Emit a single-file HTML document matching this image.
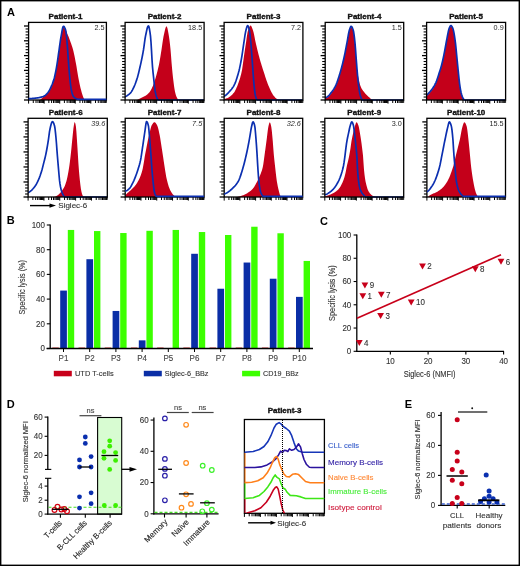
<!DOCTYPE html>
<html><head><meta charset="utf-8"><style>
html,body{margin:0;padding:0;background:#fff;}
svg{display:block;font-family:"Liberation Sans", sans-serif;will-change:transform;}
</style></head><body>
<svg width="520" height="566" viewBox="0 0 520 566">
<rect x="0" y="0" width="520" height="566" fill="#fff"/>
<g id="panelA">
<clipPath id="cPatient1"><rect x="28.6" y="22.4" width="77.8" height="78.6"/></clipPath>
<path d="M40,100 L40,100 L40.5,99.53 L41,99.07 L41.5,98.6 L42,98.15 L42.5,97.7 L43,97.25 L43.5,96.81 L44,96.4 L44.5,96.01 L45,95.64 L45.5,95.27 L46,94.89 L46.5,94.49 L47,94.05 L47.5,93.57 L48,93.02 L48.5,92.37 L49,91.63 L49.5,90.79 L50,89.87 L50.5,88.87 L51,87.82 L51.5,86.71 L52,85.56 L52.5,84.31 L53,82.93 L53.5,81.42 L54,79.76 L54.5,77.91 L55,75.8 L55.5,73.45 L56,70.9 L56.5,68.18 L57,65.17 L57.5,61.82 L58,58.28 L58.5,54.73 L59,51.29 L59.5,47.73 L60,44.14 L60.5,40.72 L61,37.69 L61.5,34.88 L62,31.95 L62.5,29.34 L63,27.56 L63.5,27.07 L64,27.46 L64.5,28.24 L65,29.21 L65.5,30.16 L66,31.07 L66.5,32.07 L67,33.14 L67.5,34.26 L68,35.43 L68.5,36.62 L69,37.86 L69.5,39.16 L70,40.52 L70.5,41.91 L71,43.35 L71.5,44.81 L72,46.29 L72.5,47.87 L73,49.59 L73.5,51.52 L74,53.69 L74.5,56.06 L75,58.58 L75.5,61.19 L76,63.85 L76.5,66.62 L77,69.64 L77.5,72.74 L78,75.75 L78.5,78.5 L79,81.03 L79.5,83.46 L80,85.77 L80.5,87.9 L81,89.83 L81.5,91.64 L82,93.38 L82.5,95 L83,96.46 L83.5,97.69 L84,98.65 L84.5,99.42 L85,100 L85,100 Z" fill="#c4001a" clip-path="url(#cPatient1)"/>
<line x1="24" y1="100" x2="28.6" y2="100" stroke="#000" stroke-width="1.3" />
<line x1="25.6" y1="97.04" x2="28.6" y2="97.04" stroke="#000" stroke-width="1.1" />
<line x1="25.6" y1="94.08" x2="28.6" y2="94.08" stroke="#000" stroke-width="1.1" />
<line x1="25.6" y1="91.12" x2="28.6" y2="91.12" stroke="#000" stroke-width="1.1" />
<line x1="25.6" y1="88.16" x2="28.6" y2="88.16" stroke="#000" stroke-width="1.1" />
<line x1="24" y1="85.2" x2="28.6" y2="85.2" stroke="#000" stroke-width="1.3" />
<line x1="25.6" y1="82.24" x2="28.6" y2="82.24" stroke="#000" stroke-width="1.1" />
<line x1="25.6" y1="79.28" x2="28.6" y2="79.28" stroke="#000" stroke-width="1.1" />
<line x1="25.6" y1="76.32" x2="28.6" y2="76.32" stroke="#000" stroke-width="1.1" />
<line x1="25.6" y1="73.36" x2="28.6" y2="73.36" stroke="#000" stroke-width="1.1" />
<line x1="24" y1="70.4" x2="28.6" y2="70.4" stroke="#000" stroke-width="1.3" />
<line x1="25.6" y1="67.44" x2="28.6" y2="67.44" stroke="#000" stroke-width="1.1" />
<line x1="25.6" y1="64.48" x2="28.6" y2="64.48" stroke="#000" stroke-width="1.1" />
<line x1="25.6" y1="61.52" x2="28.6" y2="61.52" stroke="#000" stroke-width="1.1" />
<line x1="25.6" y1="58.56" x2="28.6" y2="58.56" stroke="#000" stroke-width="1.1" />
<line x1="24" y1="55.6" x2="28.6" y2="55.6" stroke="#000" stroke-width="1.3" />
<line x1="25.6" y1="52.64" x2="28.6" y2="52.64" stroke="#000" stroke-width="1.1" />
<line x1="25.6" y1="49.68" x2="28.6" y2="49.68" stroke="#000" stroke-width="1.1" />
<line x1="25.6" y1="46.72" x2="28.6" y2="46.72" stroke="#000" stroke-width="1.1" />
<line x1="25.6" y1="43.76" x2="28.6" y2="43.76" stroke="#000" stroke-width="1.1" />
<line x1="24" y1="40.8" x2="28.6" y2="40.8" stroke="#000" stroke-width="1.3" />
<line x1="25.6" y1="37.84" x2="28.6" y2="37.84" stroke="#000" stroke-width="1.1" />
<line x1="25.6" y1="34.88" x2="28.6" y2="34.88" stroke="#000" stroke-width="1.1" />
<line x1="25.6" y1="31.92" x2="28.6" y2="31.92" stroke="#000" stroke-width="1.1" />
<line x1="25.6" y1="28.96" x2="28.6" y2="28.96" stroke="#000" stroke-width="1.1" />
<line x1="24" y1="26" x2="28.6" y2="26" stroke="#000" stroke-width="1.3" />
<line x1="28.6" y1="100" x2="28.6" y2="103.6" stroke="#000" stroke-width="1.0" />
<line x1="33.28" y1="100" x2="33.28" y2="103" stroke="#000" stroke-width="1.0" />
<line x1="36.02" y1="100" x2="36.02" y2="103" stroke="#000" stroke-width="1.0" />
<line x1="37.97" y1="100" x2="37.97" y2="103" stroke="#000" stroke-width="1.0" />
<line x1="39.48" y1="100" x2="39.48" y2="103" stroke="#000" stroke-width="1.0" />
<line x1="40.71" y1="100" x2="40.71" y2="103" stroke="#000" stroke-width="1.0" />
<line x1="41.75" y1="100" x2="41.75" y2="103" stroke="#000" stroke-width="1.0" />
<line x1="42.65" y1="100" x2="42.65" y2="103" stroke="#000" stroke-width="1.0" />
<line x1="43.45" y1="100" x2="43.45" y2="103" stroke="#000" stroke-width="1.0" />
<line x1="44.16" y1="100" x2="44.16" y2="103.6" stroke="#000" stroke-width="1.0" />
<line x1="48.84" y1="100" x2="48.84" y2="103" stroke="#000" stroke-width="1.0" />
<line x1="51.58" y1="100" x2="51.58" y2="103" stroke="#000" stroke-width="1.0" />
<line x1="53.53" y1="100" x2="53.53" y2="103" stroke="#000" stroke-width="1.0" />
<line x1="55.04" y1="100" x2="55.04" y2="103" stroke="#000" stroke-width="1.0" />
<line x1="56.27" y1="100" x2="56.27" y2="103" stroke="#000" stroke-width="1.0" />
<line x1="57.31" y1="100" x2="57.31" y2="103" stroke="#000" stroke-width="1.0" />
<line x1="58.21" y1="100" x2="58.21" y2="103" stroke="#000" stroke-width="1.0" />
<line x1="59.01" y1="100" x2="59.01" y2="103" stroke="#000" stroke-width="1.0" />
<line x1="59.72" y1="100" x2="59.72" y2="103.6" stroke="#000" stroke-width="1.0" />
<line x1="64.4" y1="100" x2="64.4" y2="103" stroke="#000" stroke-width="1.0" />
<line x1="67.14" y1="100" x2="67.14" y2="103" stroke="#000" stroke-width="1.0" />
<line x1="69.09" y1="100" x2="69.09" y2="103" stroke="#000" stroke-width="1.0" />
<line x1="70.6" y1="100" x2="70.6" y2="103" stroke="#000" stroke-width="1.0" />
<line x1="71.83" y1="100" x2="71.83" y2="103" stroke="#000" stroke-width="1.0" />
<line x1="72.87" y1="100" x2="72.87" y2="103" stroke="#000" stroke-width="1.0" />
<line x1="73.77" y1="100" x2="73.77" y2="103" stroke="#000" stroke-width="1.0" />
<line x1="74.57" y1="100" x2="74.57" y2="103" stroke="#000" stroke-width="1.0" />
<line x1="75.28" y1="100" x2="75.28" y2="103.6" stroke="#000" stroke-width="1.0" />
<line x1="79.96" y1="100" x2="79.96" y2="103" stroke="#000" stroke-width="1.0" />
<line x1="82.7" y1="100" x2="82.7" y2="103" stroke="#000" stroke-width="1.0" />
<line x1="84.65" y1="100" x2="84.65" y2="103" stroke="#000" stroke-width="1.0" />
<line x1="86.16" y1="100" x2="86.16" y2="103" stroke="#000" stroke-width="1.0" />
<line x1="87.39" y1="100" x2="87.39" y2="103" stroke="#000" stroke-width="1.0" />
<line x1="88.43" y1="100" x2="88.43" y2="103" stroke="#000" stroke-width="1.0" />
<line x1="89.33" y1="100" x2="89.33" y2="103" stroke="#000" stroke-width="1.0" />
<line x1="90.13" y1="100" x2="90.13" y2="103" stroke="#000" stroke-width="1.0" />
<line x1="90.84" y1="100" x2="90.84" y2="103.6" stroke="#000" stroke-width="1.0" />
<line x1="95.52" y1="100" x2="95.52" y2="103" stroke="#000" stroke-width="1.0" />
<line x1="98.26" y1="100" x2="98.26" y2="103" stroke="#000" stroke-width="1.0" />
<line x1="100.21" y1="100" x2="100.21" y2="103" stroke="#000" stroke-width="1.0" />
<line x1="101.72" y1="100" x2="101.72" y2="103" stroke="#000" stroke-width="1.0" />
<line x1="102.95" y1="100" x2="102.95" y2="103" stroke="#000" stroke-width="1.0" />
<line x1="103.99" y1="100" x2="103.99" y2="103" stroke="#000" stroke-width="1.0" />
<line x1="104.89" y1="100" x2="104.89" y2="103" stroke="#000" stroke-width="1.0" />
<line x1="105.69" y1="100" x2="105.69" y2="103" stroke="#000" stroke-width="1.0" />
<line x1="106.4" y1="100" x2="106.4" y2="102.8" stroke="#000" stroke-width="0.8" />
<rect x="28.6" y="22.4" width="77.8" height="77.6" fill="none" stroke="#000" stroke-width="1.3"/>
<path d="M28,98.68 L28.5,98.68 L29,98.67 L29.5,98.65 L30,98.63 L30.5,98.6 L31,98.57 L31.5,98.54 L32,98.49 L32.5,98.45 L33,98.4 L33.5,98.35 L34,98.3 L34.5,98.24 L35,98.18 L35.5,98.12 L36,98.06 L36.5,97.99 L37,97.93 L37.5,97.87 L38,97.79 L38.5,97.72 L39,97.63 L39.5,97.54 L40,97.43 L40.5,97.32 L41,97.19 L41.5,97.06 L42,96.91 L42.5,96.75 L43,96.58 L43.5,96.39 L44,96.15 L44.5,95.86 L45,95.5 L45.5,95.1 L46,94.64 L46.5,94.15 L47,93.62 L47.5,93.06 L48,92.47 L48.5,91.81 L49,91.04 L49.5,90.17 L50,89.21 L50.5,88.18 L51,87.09 L51.5,85.95 L52,84.78 L52.5,83.52 L53,82.15 L53.5,80.64 L54,78.98 L54.5,77.14 L55,75.02 L55.5,72.67 L56,70.12 L56.5,67.41 L57,64.4 L57.5,61.04 L58,57.5 L58.5,53.95 L59,50.52 L59.5,46.95 L60,43.36 L60.5,39.95 L61,36.91 L61.5,34.11 L62,31.17 L62.5,28.57 L63,26.78 L63.5,26.29 L64,26.59 L64.5,27.27 L65,28.28 L65.5,29.58 L66,31.64 L66.5,36.11 L67,41.82 L67.5,47.97 L68,55.37 L68.5,62.33 L69,68.94 L69.5,74.78 L70,79.92 L70.5,84.56 L71,88.14 L71.5,90.6 L72,92.75 L72.5,94.52 L73,95.81 L73.5,96.53 L74,97.02 L74.5,97.47 L75,97.88 L75.5,98.24 L76,98.55 L76.5,98.82 L77,99.03 L77.5,99.2 L78,99.31 L78.5,99.37 L79,99.38 L79.5,99.38 L80,99.38 L80.5,99.38 L81,99.38 L81.5,99.38 L82,99.38 L82.5,99.38 L83,99.38 L83.5,99.38 L84,99.38 L84.5,99.38 L85,99.38 L85.5,99.38 L86,99.38 L86.5,99.38 L87,99.38 L87.5,99.38 L88,99.38 L88.5,99.38 L89,99.38 L89.5,99.38 L90,99.38 L90.5,99.38 L91,99.38 L91.5,99.38 L92,99.38 L92.5,99.38 L93,99.38 L93.5,99.38 L94,99.38 L94.5,99.38 L95,99.38 L95.5,99.38 L96,99.38 L96.5,99.38 L97,99.38 L97.5,99.38 L98,99.38 L98.5,99.38 L99,99.38 L99.5,99.38 L100,99.38 L100.5,99.38 L101,99.38 L101.5,99.38 L102,99.38 L102.5,99.38 L103,99.38 L103.5,99.38 L104,99.38 L104.5,99.38 L105,99.38 L105.5,99.38 L106,99.38 L106.5,99.38 L107,99.38" fill="none" stroke="#0b2fb0" stroke-width="1.7" stroke-linejoin="round" clip-path="url(#cPatient1)"/>
<text x="65.5" y="19.1" font-size="8" text-anchor="middle" fill="#111" font-weight="bold" font-style="normal" stroke="#111" stroke-width="0.35">Patient-1</text>
<text x="104.5" y="29.7" font-size="7.8" text-anchor="end" fill="#2a2a2a" font-weight="normal" font-style="normal" stroke="none" textLength="10.08" lengthAdjust="spacingAndGlyphs">2.5</text>
<clipPath id="cPatient2"><rect x="125.1" y="22.4" width="79" height="78.6"/></clipPath>
<path d="M137,100 L137,100 L137.5,99.77 L138,99.54 L138.5,99.3 L139,99.06 L139.5,98.82 L140,98.58 L140.5,98.33 L141,98.08 L141.5,97.83 L142,97.59 L142.5,97.35 L143,97.11 L143.5,96.86 L144,96.6 L144.5,96.33 L145,96.04 L145.5,95.73 L146,95.4 L146.5,95.05 L147,94.68 L147.5,94.27 L148,93.83 L148.5,93.35 L149,92.82 L149.5,92.22 L150,91.51 L150.5,90.72 L151,89.84 L151.5,88.89 L152,87.87 L152.5,86.81 L153,85.64 L153.5,84.34 L154,82.91 L154.5,81.4 L155,79.81 L155.5,78.17 L156,76.48 L156.5,74.72 L157,72.87 L157.5,70.92 L158,68.87 L158.5,66.69 L159,64.38 L159.5,61.82 L160,58.97 L160.5,55.94 L161,52.82 L161.5,49.71 L162,46.33 L162.5,42.79 L163,39.43 L163.5,36.61 L164,34.28 L164.5,31.94 L165,29.77 L165.5,27.97 L166,26.74 L166.5,26.28 L167,26.92 L167.5,28.62 L168,31.04 L168.5,33.85 L169,36.72 L169.5,40.2 L170,44.47 L170.5,49.32 L171,55.17 L171.5,61.95 L172,67.73 L172.5,73 L173,77.67 L173.5,81.76 L174,85.65 L174.5,89.09 L175,91.85 L175.5,93.81 L176,95.4 L176.5,96.73 L177,97.85 L177.5,98.82 L178,99.61 L178.3,100 L178.3,100 Z" fill="#c4001a" clip-path="url(#cPatient2)"/>
<path d="M125,96.9 L125.5,96.62 L126,96.33 L126.5,96.02 L127,95.69 L127.5,95.34 L128,94.99 L128.5,94.64 L129,94.27 L129.5,93.87 L130,93.43 L130.5,92.92 L131,92.34 L131.5,91.63 L132,90.81 L132.5,89.9 L133,88.91 L133.5,87.87 L134,86.81 L134.5,85.69 L135,84.49 L135.5,83.2 L136,81.83 L136.5,80.37 L137,78.82 L137.5,77.17 L138,75.36 L138.5,73.43 L139,71.38 L139.5,69.25 L140,67.06 L140.5,64.83 L141,62.57 L141.5,60.24 L142,57.82 L142.5,55.28 L143,52.6 L143.5,49.74 L144,46.32 L144.5,42.58 L145,39.01 L145.5,36.14 L146,33.71 L146.5,31.3 L147,29.1 L147.5,27.33 L148,26.2 L148.5,25.92 L149,26.98 L149.5,29.26 L150,32.43 L150.5,36.14 L151,42.23 L151.5,50.34 L152,59.51 L152.5,66.87 L153,72.14 L153.5,76.7 L154,81.36 L154.5,86.23 L155,90.43 L155.5,93.11 L156,95.04 L156.5,96.78 L157,98.22 L157.5,99.29 L158,99.89 L158.5,100 L159,100 L159.5,100 L160,100 L160.5,100 L161,100 L161.5,100 L162,100 L162.5,100 L163,100 L163.5,100 L164,100 L164.5,100 L165,100 L165.5,100 L166,100 L166.5,100 L167,100 L167.5,100 L168,100 L168.5,100 L169,100 L169.5,100 L170,100 L170.5,100 L171,100 L171.5,100 L172,100 L172.5,100 L173,100 L173.5,100 L174,100 L174.5,100 L175,100 L175.5,100 L176,100 L176.5,100 L177,100 L177.5,100 L178,100 L178.5,100 L179,100 L179.5,100 L180,100 L180.5,100 L181,100 L181.5,100 L182,100 L182.5,100 L183,100 L183.5,100 L184,100 L184.5,100 L185,100 L185.5,100 L186,100 L186.5,100 L187,100 L187.5,100 L188,100 L188.5,100 L189,100 L189.5,100 L190,100 L190.5,100 L191,100 L191.5,100 L192,100 L192.5,100 L193,100 L193.5,100 L194,100 L194.5,100 L195,100 L195.5,100 L196,100 L196.5,100 L197,100 L197.5,100 L198,100 L198.5,100 L199,100 L199.5,100 L200,100 L200.5,100 L201,100 L201.5,100 L202,100 L202.5,100 L203,100 L203.5,100 L204,100 L204.5,100 L205,100" fill="none" stroke="#0b2fb0" stroke-width="1.7" stroke-linejoin="round" clip-path="url(#cPatient2)"/>
<line x1="120.5" y1="100" x2="125.1" y2="100" stroke="#000" stroke-width="1.3" />
<line x1="122.1" y1="97.04" x2="125.1" y2="97.04" stroke="#000" stroke-width="1.1" />
<line x1="122.1" y1="94.08" x2="125.1" y2="94.08" stroke="#000" stroke-width="1.1" />
<line x1="122.1" y1="91.12" x2="125.1" y2="91.12" stroke="#000" stroke-width="1.1" />
<line x1="122.1" y1="88.16" x2="125.1" y2="88.16" stroke="#000" stroke-width="1.1" />
<line x1="120.5" y1="85.2" x2="125.1" y2="85.2" stroke="#000" stroke-width="1.3" />
<line x1="122.1" y1="82.24" x2="125.1" y2="82.24" stroke="#000" stroke-width="1.1" />
<line x1="122.1" y1="79.28" x2="125.1" y2="79.28" stroke="#000" stroke-width="1.1" />
<line x1="122.1" y1="76.32" x2="125.1" y2="76.32" stroke="#000" stroke-width="1.1" />
<line x1="122.1" y1="73.36" x2="125.1" y2="73.36" stroke="#000" stroke-width="1.1" />
<line x1="120.5" y1="70.4" x2="125.1" y2="70.4" stroke="#000" stroke-width="1.3" />
<line x1="122.1" y1="67.44" x2="125.1" y2="67.44" stroke="#000" stroke-width="1.1" />
<line x1="122.1" y1="64.48" x2="125.1" y2="64.48" stroke="#000" stroke-width="1.1" />
<line x1="122.1" y1="61.52" x2="125.1" y2="61.52" stroke="#000" stroke-width="1.1" />
<line x1="122.1" y1="58.56" x2="125.1" y2="58.56" stroke="#000" stroke-width="1.1" />
<line x1="120.5" y1="55.6" x2="125.1" y2="55.6" stroke="#000" stroke-width="1.3" />
<line x1="122.1" y1="52.64" x2="125.1" y2="52.64" stroke="#000" stroke-width="1.1" />
<line x1="122.1" y1="49.68" x2="125.1" y2="49.68" stroke="#000" stroke-width="1.1" />
<line x1="122.1" y1="46.72" x2="125.1" y2="46.72" stroke="#000" stroke-width="1.1" />
<line x1="122.1" y1="43.76" x2="125.1" y2="43.76" stroke="#000" stroke-width="1.1" />
<line x1="120.5" y1="40.8" x2="125.1" y2="40.8" stroke="#000" stroke-width="1.3" />
<line x1="122.1" y1="37.84" x2="125.1" y2="37.84" stroke="#000" stroke-width="1.1" />
<line x1="122.1" y1="34.88" x2="125.1" y2="34.88" stroke="#000" stroke-width="1.1" />
<line x1="122.1" y1="31.92" x2="125.1" y2="31.92" stroke="#000" stroke-width="1.1" />
<line x1="122.1" y1="28.96" x2="125.1" y2="28.96" stroke="#000" stroke-width="1.1" />
<line x1="120.5" y1="26" x2="125.1" y2="26" stroke="#000" stroke-width="1.3" />
<line x1="125.1" y1="100" x2="125.1" y2="103.6" stroke="#000" stroke-width="1.0" />
<line x1="129.86" y1="100" x2="129.86" y2="103" stroke="#000" stroke-width="1.0" />
<line x1="132.64" y1="100" x2="132.64" y2="103" stroke="#000" stroke-width="1.0" />
<line x1="134.61" y1="100" x2="134.61" y2="103" stroke="#000" stroke-width="1.0" />
<line x1="136.14" y1="100" x2="136.14" y2="103" stroke="#000" stroke-width="1.0" />
<line x1="137.39" y1="100" x2="137.39" y2="103" stroke="#000" stroke-width="1.0" />
<line x1="138.45" y1="100" x2="138.45" y2="103" stroke="#000" stroke-width="1.0" />
<line x1="139.37" y1="100" x2="139.37" y2="103" stroke="#000" stroke-width="1.0" />
<line x1="140.18" y1="100" x2="140.18" y2="103" stroke="#000" stroke-width="1.0" />
<line x1="140.9" y1="100" x2="140.9" y2="103.6" stroke="#000" stroke-width="1.0" />
<line x1="145.66" y1="100" x2="145.66" y2="103" stroke="#000" stroke-width="1.0" />
<line x1="148.44" y1="100" x2="148.44" y2="103" stroke="#000" stroke-width="1.0" />
<line x1="150.41" y1="100" x2="150.41" y2="103" stroke="#000" stroke-width="1.0" />
<line x1="151.94" y1="100" x2="151.94" y2="103" stroke="#000" stroke-width="1.0" />
<line x1="153.19" y1="100" x2="153.19" y2="103" stroke="#000" stroke-width="1.0" />
<line x1="154.25" y1="100" x2="154.25" y2="103" stroke="#000" stroke-width="1.0" />
<line x1="155.17" y1="100" x2="155.17" y2="103" stroke="#000" stroke-width="1.0" />
<line x1="155.98" y1="100" x2="155.98" y2="103" stroke="#000" stroke-width="1.0" />
<line x1="156.7" y1="100" x2="156.7" y2="103.6" stroke="#000" stroke-width="1.0" />
<line x1="161.46" y1="100" x2="161.46" y2="103" stroke="#000" stroke-width="1.0" />
<line x1="164.24" y1="100" x2="164.24" y2="103" stroke="#000" stroke-width="1.0" />
<line x1="166.21" y1="100" x2="166.21" y2="103" stroke="#000" stroke-width="1.0" />
<line x1="167.74" y1="100" x2="167.74" y2="103" stroke="#000" stroke-width="1.0" />
<line x1="168.99" y1="100" x2="168.99" y2="103" stroke="#000" stroke-width="1.0" />
<line x1="170.05" y1="100" x2="170.05" y2="103" stroke="#000" stroke-width="1.0" />
<line x1="170.97" y1="100" x2="170.97" y2="103" stroke="#000" stroke-width="1.0" />
<line x1="171.78" y1="100" x2="171.78" y2="103" stroke="#000" stroke-width="1.0" />
<line x1="172.5" y1="100" x2="172.5" y2="103.6" stroke="#000" stroke-width="1.0" />
<line x1="177.26" y1="100" x2="177.26" y2="103" stroke="#000" stroke-width="1.0" />
<line x1="180.04" y1="100" x2="180.04" y2="103" stroke="#000" stroke-width="1.0" />
<line x1="182.01" y1="100" x2="182.01" y2="103" stroke="#000" stroke-width="1.0" />
<line x1="183.54" y1="100" x2="183.54" y2="103" stroke="#000" stroke-width="1.0" />
<line x1="184.79" y1="100" x2="184.79" y2="103" stroke="#000" stroke-width="1.0" />
<line x1="185.85" y1="100" x2="185.85" y2="103" stroke="#000" stroke-width="1.0" />
<line x1="186.77" y1="100" x2="186.77" y2="103" stroke="#000" stroke-width="1.0" />
<line x1="187.58" y1="100" x2="187.58" y2="103" stroke="#000" stroke-width="1.0" />
<line x1="188.3" y1="100" x2="188.3" y2="103.6" stroke="#000" stroke-width="1.0" />
<line x1="193.06" y1="100" x2="193.06" y2="103" stroke="#000" stroke-width="1.0" />
<line x1="195.84" y1="100" x2="195.84" y2="103" stroke="#000" stroke-width="1.0" />
<line x1="197.81" y1="100" x2="197.81" y2="103" stroke="#000" stroke-width="1.0" />
<line x1="199.34" y1="100" x2="199.34" y2="103" stroke="#000" stroke-width="1.0" />
<line x1="200.59" y1="100" x2="200.59" y2="103" stroke="#000" stroke-width="1.0" />
<line x1="201.65" y1="100" x2="201.65" y2="103" stroke="#000" stroke-width="1.0" />
<line x1="202.57" y1="100" x2="202.57" y2="103" stroke="#000" stroke-width="1.0" />
<line x1="203.38" y1="100" x2="203.38" y2="103" stroke="#000" stroke-width="1.0" />
<line x1="204.1" y1="100" x2="204.1" y2="102.8" stroke="#000" stroke-width="0.8" />
<rect x="125.1" y="22.4" width="79" height="77.6" fill="none" stroke="#000" stroke-width="1.3"/>
<text x="164.6" y="19.1" font-size="8" text-anchor="middle" fill="#111" font-weight="bold" font-style="normal" stroke="#111" stroke-width="0.35">Patient-2</text>
<text x="202.2" y="29.7" font-size="7.8" text-anchor="end" fill="#2a2a2a" font-weight="normal" font-style="normal" stroke="none" textLength="14.12" lengthAdjust="spacingAndGlyphs">18.5</text>
<clipPath id="cPatient3"><rect x="224.1" y="22.4" width="78.8" height="78.6"/></clipPath>
<path d="M224.1,100 L224.1,99.05 L224.6,98.97 L225.1,98.85 L225.6,98.71 L226.1,98.55 L226.6,98.37 L227.1,98.17 L227.6,97.95 L228.1,97.7 L228.6,97.42 L229.1,97.11 L229.6,96.77 L230.1,96.41 L230.6,96.02 L231.1,95.59 L231.6,95.14 L232.1,94.67 L232.6,94.16 L233.1,93.62 L233.6,93.06 L234.1,92.45 L234.6,91.72 L235.1,90.84 L235.6,89.84 L236.1,88.75 L236.6,87.59 L237.1,86.38 L237.6,85.15 L238.1,83.87 L238.6,82.52 L239.1,81.1 L239.6,79.57 L240.1,77.91 L240.6,76.11 L241.1,74.14 L241.6,71.98 L242.1,69.38 L242.6,66.06 L243.1,62.38 L243.6,58.71 L244.1,55.29 L244.6,51.87 L245.1,48.47 L245.6,45.14 L246.1,41.88 L246.6,38.37 L247.1,34.94 L247.6,32.06 L248.1,30.18 L248.6,28.75 L249.1,27.47 L249.6,26.44 L250.1,25.75 L250.6,25.5 L251.1,25.83 L251.6,26.69 L252.1,27.91 L252.6,29.32 L253.1,30.77 L253.6,32.58 L254.1,34.84 L254.6,37.34 L255.1,39.89 L255.6,42.31 L256.1,44.48 L256.6,46.6 L257.1,48.69 L257.6,50.74 L258.1,52.75 L258.6,54.7 L259.1,56.59 L259.6,58.4 L260.1,60.17 L260.6,61.89 L261.1,63.57 L261.6,65.21 L262.1,66.82 L262.6,68.41 L263.1,69.97 L263.6,71.52 L264.1,73.07 L264.6,74.62 L265.1,76.16 L265.6,77.69 L266.1,79.18 L266.6,80.64 L267.1,82.05 L267.6,83.4 L268.1,84.68 L268.6,85.88 L269.1,87.04 L269.6,88.18 L270.1,89.3 L270.6,90.38 L271.1,91.41 L271.6,92.4 L272.1,93.32 L272.6,94.17 L273.1,94.94 L273.6,95.63 L274.1,96.26 L274.6,96.84 L275.1,97.38 L275.6,97.88 L276.1,98.34 L276.6,98.76 L277.1,99.14 L277.6,99.49 L278.1,99.79 L278.5,100 L278.5,100 Z" fill="#c4001a" clip-path="url(#cPatient3)"/>
<path d="M224,96.51 L224.5,96.17 L225,95.81 L225.5,95.42 L226,94.99 L226.5,94.55 L227,94.08 L227.5,93.59 L228,93.09 L228.5,92.56 L229,92.02 L229.5,91.46 L230,90.9 L230.5,90.34 L231,89.77 L231.5,89.17 L232,88.54 L232.5,87.87 L233,87.14 L233.5,86.34 L234,85.46 L234.5,84.47 L235,83.35 L235.5,82.11 L236,80.76 L236.5,79.31 L237,77.76 L237.5,76.12 L238,74.41 L238.5,72.62 L239,70.76 L239.5,68.68 L240,66.37 L240.5,63.88 L241,61.23 L241.5,58.46 L242,55.51 L242.5,52.18 L243,48.66 L243.5,45.17 L244,41.89 L244.5,38.5 L245,35.18 L245.5,32.27 L246,30.09 L246.5,28.18 L247,26.55 L247.5,25.6 L248,25.72 L248.5,26.89 L249,28.75 L249.5,30.95 L250,34.41 L250.5,39.09 L251,44.27 L251.5,50.49 L252,57.32 L252.5,64.42 L253,71.52 L253.5,78.44 L254,84.63 L254.5,89.38 L255,93.35 L255.5,95.88 L256,97.7 L256.5,99.13 L257,99.92 L257.5,100 L258,100 L258.5,100 L259,100 L259.5,100 L260,100 L260.5,100 L261,100 L261.5,100 L262,100 L262.5,100 L263,100 L263.5,100 L264,100 L264.5,100 L265,100 L265.5,100 L266,100 L266.5,100 L267,100 L267.5,100 L268,100 L268.5,100 L269,100 L269.5,100 L270,100 L270.5,100 L271,100 L271.5,100 L272,100 L272.5,100 L273,100 L273.5,100 L274,100 L274.5,100 L275,100 L275.5,100 L276,100 L276.5,100 L277,100 L277.5,100 L278,100 L278.5,100 L279,100 L279.5,100 L280,100 L280.5,100 L281,100 L281.5,100 L282,100 L282.5,100 L283,100 L283.5,100 L284,100 L284.5,100 L285,100 L285.5,100 L286,100 L286.5,100 L287,100 L287.5,100 L288,100 L288.5,100 L289,100 L289.5,100 L290,100 L290.5,100 L291,100 L291.5,100 L292,100 L292.5,100 L293,100 L293.5,100 L294,100 L294.5,100 L295,100 L295.5,100 L296,100 L296.5,100 L297,100 L297.5,100 L298,100 L298.5,100 L299,100 L299.5,100 L300,100 L300.5,100 L301,100 L301.5,100 L302,100 L302.5,100 L303,100 L303.5,100 L304,100" fill="none" stroke="#0b2fb0" stroke-width="1.7" stroke-linejoin="round" clip-path="url(#cPatient3)"/>
<line x1="219.5" y1="100" x2="224.1" y2="100" stroke="#000" stroke-width="1.3" />
<line x1="221.1" y1="97.04" x2="224.1" y2="97.04" stroke="#000" stroke-width="1.1" />
<line x1="221.1" y1="94.08" x2="224.1" y2="94.08" stroke="#000" stroke-width="1.1" />
<line x1="221.1" y1="91.12" x2="224.1" y2="91.12" stroke="#000" stroke-width="1.1" />
<line x1="221.1" y1="88.16" x2="224.1" y2="88.16" stroke="#000" stroke-width="1.1" />
<line x1="219.5" y1="85.2" x2="224.1" y2="85.2" stroke="#000" stroke-width="1.3" />
<line x1="221.1" y1="82.24" x2="224.1" y2="82.24" stroke="#000" stroke-width="1.1" />
<line x1="221.1" y1="79.28" x2="224.1" y2="79.28" stroke="#000" stroke-width="1.1" />
<line x1="221.1" y1="76.32" x2="224.1" y2="76.32" stroke="#000" stroke-width="1.1" />
<line x1="221.1" y1="73.36" x2="224.1" y2="73.36" stroke="#000" stroke-width="1.1" />
<line x1="219.5" y1="70.4" x2="224.1" y2="70.4" stroke="#000" stroke-width="1.3" />
<line x1="221.1" y1="67.44" x2="224.1" y2="67.44" stroke="#000" stroke-width="1.1" />
<line x1="221.1" y1="64.48" x2="224.1" y2="64.48" stroke="#000" stroke-width="1.1" />
<line x1="221.1" y1="61.52" x2="224.1" y2="61.52" stroke="#000" stroke-width="1.1" />
<line x1="221.1" y1="58.56" x2="224.1" y2="58.56" stroke="#000" stroke-width="1.1" />
<line x1="219.5" y1="55.6" x2="224.1" y2="55.6" stroke="#000" stroke-width="1.3" />
<line x1="221.1" y1="52.64" x2="224.1" y2="52.64" stroke="#000" stroke-width="1.1" />
<line x1="221.1" y1="49.68" x2="224.1" y2="49.68" stroke="#000" stroke-width="1.1" />
<line x1="221.1" y1="46.72" x2="224.1" y2="46.72" stroke="#000" stroke-width="1.1" />
<line x1="221.1" y1="43.76" x2="224.1" y2="43.76" stroke="#000" stroke-width="1.1" />
<line x1="219.5" y1="40.8" x2="224.1" y2="40.8" stroke="#000" stroke-width="1.3" />
<line x1="221.1" y1="37.84" x2="224.1" y2="37.84" stroke="#000" stroke-width="1.1" />
<line x1="221.1" y1="34.88" x2="224.1" y2="34.88" stroke="#000" stroke-width="1.1" />
<line x1="221.1" y1="31.92" x2="224.1" y2="31.92" stroke="#000" stroke-width="1.1" />
<line x1="221.1" y1="28.96" x2="224.1" y2="28.96" stroke="#000" stroke-width="1.1" />
<line x1="219.5" y1="26" x2="224.1" y2="26" stroke="#000" stroke-width="1.3" />
<line x1="224.1" y1="100" x2="224.1" y2="103.6" stroke="#000" stroke-width="1.0" />
<line x1="228.84" y1="100" x2="228.84" y2="103" stroke="#000" stroke-width="1.0" />
<line x1="231.62" y1="100" x2="231.62" y2="103" stroke="#000" stroke-width="1.0" />
<line x1="233.59" y1="100" x2="233.59" y2="103" stroke="#000" stroke-width="1.0" />
<line x1="235.12" y1="100" x2="235.12" y2="103" stroke="#000" stroke-width="1.0" />
<line x1="236.36" y1="100" x2="236.36" y2="103" stroke="#000" stroke-width="1.0" />
<line x1="237.42" y1="100" x2="237.42" y2="103" stroke="#000" stroke-width="1.0" />
<line x1="238.33" y1="100" x2="238.33" y2="103" stroke="#000" stroke-width="1.0" />
<line x1="239.14" y1="100" x2="239.14" y2="103" stroke="#000" stroke-width="1.0" />
<line x1="239.86" y1="100" x2="239.86" y2="103.6" stroke="#000" stroke-width="1.0" />
<line x1="244.6" y1="100" x2="244.6" y2="103" stroke="#000" stroke-width="1.0" />
<line x1="247.38" y1="100" x2="247.38" y2="103" stroke="#000" stroke-width="1.0" />
<line x1="249.35" y1="100" x2="249.35" y2="103" stroke="#000" stroke-width="1.0" />
<line x1="250.88" y1="100" x2="250.88" y2="103" stroke="#000" stroke-width="1.0" />
<line x1="252.12" y1="100" x2="252.12" y2="103" stroke="#000" stroke-width="1.0" />
<line x1="253.18" y1="100" x2="253.18" y2="103" stroke="#000" stroke-width="1.0" />
<line x1="254.09" y1="100" x2="254.09" y2="103" stroke="#000" stroke-width="1.0" />
<line x1="254.9" y1="100" x2="254.9" y2="103" stroke="#000" stroke-width="1.0" />
<line x1="255.62" y1="100" x2="255.62" y2="103.6" stroke="#000" stroke-width="1.0" />
<line x1="260.36" y1="100" x2="260.36" y2="103" stroke="#000" stroke-width="1.0" />
<line x1="263.14" y1="100" x2="263.14" y2="103" stroke="#000" stroke-width="1.0" />
<line x1="265.11" y1="100" x2="265.11" y2="103" stroke="#000" stroke-width="1.0" />
<line x1="266.64" y1="100" x2="266.64" y2="103" stroke="#000" stroke-width="1.0" />
<line x1="267.88" y1="100" x2="267.88" y2="103" stroke="#000" stroke-width="1.0" />
<line x1="268.94" y1="100" x2="268.94" y2="103" stroke="#000" stroke-width="1.0" />
<line x1="269.85" y1="100" x2="269.85" y2="103" stroke="#000" stroke-width="1.0" />
<line x1="270.66" y1="100" x2="270.66" y2="103" stroke="#000" stroke-width="1.0" />
<line x1="271.38" y1="100" x2="271.38" y2="103.6" stroke="#000" stroke-width="1.0" />
<line x1="276.12" y1="100" x2="276.12" y2="103" stroke="#000" stroke-width="1.0" />
<line x1="278.9" y1="100" x2="278.9" y2="103" stroke="#000" stroke-width="1.0" />
<line x1="280.87" y1="100" x2="280.87" y2="103" stroke="#000" stroke-width="1.0" />
<line x1="282.4" y1="100" x2="282.4" y2="103" stroke="#000" stroke-width="1.0" />
<line x1="283.64" y1="100" x2="283.64" y2="103" stroke="#000" stroke-width="1.0" />
<line x1="284.7" y1="100" x2="284.7" y2="103" stroke="#000" stroke-width="1.0" />
<line x1="285.61" y1="100" x2="285.61" y2="103" stroke="#000" stroke-width="1.0" />
<line x1="286.42" y1="100" x2="286.42" y2="103" stroke="#000" stroke-width="1.0" />
<line x1="287.14" y1="100" x2="287.14" y2="103.6" stroke="#000" stroke-width="1.0" />
<line x1="291.88" y1="100" x2="291.88" y2="103" stroke="#000" stroke-width="1.0" />
<line x1="294.66" y1="100" x2="294.66" y2="103" stroke="#000" stroke-width="1.0" />
<line x1="296.63" y1="100" x2="296.63" y2="103" stroke="#000" stroke-width="1.0" />
<line x1="298.16" y1="100" x2="298.16" y2="103" stroke="#000" stroke-width="1.0" />
<line x1="299.4" y1="100" x2="299.4" y2="103" stroke="#000" stroke-width="1.0" />
<line x1="300.46" y1="100" x2="300.46" y2="103" stroke="#000" stroke-width="1.0" />
<line x1="301.37" y1="100" x2="301.37" y2="103" stroke="#000" stroke-width="1.0" />
<line x1="302.18" y1="100" x2="302.18" y2="103" stroke="#000" stroke-width="1.0" />
<line x1="302.9" y1="100" x2="302.9" y2="102.8" stroke="#000" stroke-width="0.8" />
<rect x="224.1" y="22.4" width="78.8" height="77.6" fill="none" stroke="#000" stroke-width="1.3"/>
<text x="263.5" y="19.1" font-size="8" text-anchor="middle" fill="#111" font-weight="bold" font-style="normal" stroke="#111" stroke-width="0.35">Patient-3</text>
<text x="301" y="29.7" font-size="7.8" text-anchor="end" fill="#2a2a2a" font-weight="normal" font-style="normal" stroke="none" textLength="10.08" lengthAdjust="spacingAndGlyphs">7.2</text>
<clipPath id="cPatient4"><rect x="325.2" y="22.4" width="78.5" height="78.6"/></clipPath>
<path d="M325.2,100 L325.2,98.41 L325.7,98.28 L326.2,98.1 L326.7,97.87 L327.2,97.62 L327.7,97.29 L328.2,96.89 L328.7,96.41 L329.2,95.88 L329.7,95.29 L330.2,94.68 L330.7,94.05 L331.2,93.4 L331.7,92.76 L332.2,92.09 L332.7,91.39 L333.2,90.65 L333.7,89.87 L334.2,89.04 L334.7,88.16 L335.2,87.22 L335.7,86.21 L336.2,85.11 L336.7,83.89 L337.2,82.58 L337.7,81.18 L338.2,79.71 L338.7,78.18 L339.2,76.59 L339.7,74.96 L340.2,73.3 L340.7,71.62 L341.2,69.86 L341.7,68.01 L342.2,66.08 L342.7,64.08 L343.2,62 L343.7,59.86 L344.2,57.65 L344.7,55.3 L345.2,52.82 L345.7,50.25 L346.2,47.63 L346.7,45.01 L347.2,42.34 L347.7,39.4 L348.2,36.43 L348.7,33.72 L349.2,31.58 L349.7,29.95 L350.2,28.44 L350.7,27.37 L351.2,27.07 L351.7,27.45 L352.2,28.29 L352.7,29.49 L353.2,30.94 L353.7,33.06 L354.2,36.63 L354.7,41.1 L355.2,46.15 L355.7,52.84 L356.2,59.28 L356.7,65.27 L357.2,70.47 L357.7,74 L358.2,76.64 L358.7,78.92 L359.2,81.24 L359.7,83.53 L360.2,85.37 L360.7,86.61 L361.2,87.69 L361.7,88.63 L362.2,89.48 L362.7,90.24 L363.2,90.93 L363.7,91.58 L364.2,92.21 L364.7,92.83 L365.2,93.43 L365.7,93.99 L366.2,94.52 L366.7,95.03 L367.2,95.51 L367.7,95.98 L368.2,96.44 L368.7,96.9 L369.2,97.35 L369.7,97.82 L370.2,98.29 L370.7,98.77 L371.2,99.25 L371.7,99.72 L372,100 L372,100 Z" fill="#c4001a" clip-path="url(#cPatient4)"/>
<path d="M325,97.67 L325.5,97.57 L326,97.4 L326.5,97.19 L327,96.95 L327.5,96.66 L328,96.28 L328.5,95.83 L329,95.32 L329.5,94.76 L330,94.15 L330.5,93.53 L331,92.88 L331.5,92.24 L332,91.59 L332.5,90.9 L333,90.18 L333.5,89.41 L334,88.6 L334.5,87.74 L335,86.83 L335.5,85.85 L336,84.79 L336.5,83.61 L337,82.34 L337.5,80.98 L338,79.53 L338.5,78.02 L339,76.45 L339.5,74.84 L340,73.19 L340.5,71.52 L341,69.8 L341.5,67.98 L342,66.09 L342.5,64.11 L343,62.06 L343.5,59.95 L344,57.76 L344.5,55.48 L345,53.05 L345.5,50.51 L346,47.91 L346.5,45.28 L347,42.67 L347.5,39.82 L348,36.82 L348.5,33.98 L349,31.58 L349.5,29.82 L350,28.23 L350.5,26.94 L351,26.3 L351.5,26.46 L352,27.13 L352.5,28.2 L353,29.56 L353.5,31.24 L354,34.29 L354.5,38.46 L355,43.2 L355.5,49.14 L356,56.01 L356.5,62.62 L357,69.14 L357.5,74.92 L358,80.3 L358.5,84.87 L359,88.54 L359.5,91.79 L360,94.38 L360.5,96.11 L361,97.58 L361.5,98.82 L362,99.68 L362.5,100 L363,100 L363.5,100 L364,100 L364.5,100 L365,100 L365.5,100 L366,100 L366.5,100 L367,100 L367.5,100 L368,100 L368.5,100 L369,100 L369.5,100 L370,100 L370.5,100 L371,100 L371.5,100 L372,100 L372.5,100 L373,100 L373.5,100 L374,100 L374.5,100 L375,100 L375.5,100 L376,100 L376.5,100 L377,100 L377.5,100 L378,100 L378.5,100 L379,100 L379.5,100 L380,100 L380.5,100 L381,100 L381.5,100 L382,100 L382.5,100 L383,100 L383.5,100 L384,100 L384.5,100 L385,100 L385.5,100 L386,100 L386.5,100 L387,100 L387.5,100 L388,100 L388.5,100 L389,100 L389.5,100 L390,100 L390.5,100 L391,100 L391.5,100 L392,100 L392.5,100 L393,100 L393.5,100 L394,100 L394.5,100 L395,100 L395.5,100 L396,100 L396.5,100 L397,100 L397.5,100 L398,100 L398.5,100 L399,100 L399.5,100 L400,100 L400.5,100 L401,100 L401.5,100 L402,100 L402.5,100 L403,100 L403.5,100 L404,100 L404.5,100 L405,100" fill="none" stroke="#0b2fb0" stroke-width="1.7" stroke-linejoin="round" clip-path="url(#cPatient4)"/>
<line x1="320.6" y1="100" x2="325.2" y2="100" stroke="#000" stroke-width="1.3" />
<line x1="322.2" y1="97.04" x2="325.2" y2="97.04" stroke="#000" stroke-width="1.1" />
<line x1="322.2" y1="94.08" x2="325.2" y2="94.08" stroke="#000" stroke-width="1.1" />
<line x1="322.2" y1="91.12" x2="325.2" y2="91.12" stroke="#000" stroke-width="1.1" />
<line x1="322.2" y1="88.16" x2="325.2" y2="88.16" stroke="#000" stroke-width="1.1" />
<line x1="320.6" y1="85.2" x2="325.2" y2="85.2" stroke="#000" stroke-width="1.3" />
<line x1="322.2" y1="82.24" x2="325.2" y2="82.24" stroke="#000" stroke-width="1.1" />
<line x1="322.2" y1="79.28" x2="325.2" y2="79.28" stroke="#000" stroke-width="1.1" />
<line x1="322.2" y1="76.32" x2="325.2" y2="76.32" stroke="#000" stroke-width="1.1" />
<line x1="322.2" y1="73.36" x2="325.2" y2="73.36" stroke="#000" stroke-width="1.1" />
<line x1="320.6" y1="70.4" x2="325.2" y2="70.4" stroke="#000" stroke-width="1.3" />
<line x1="322.2" y1="67.44" x2="325.2" y2="67.44" stroke="#000" stroke-width="1.1" />
<line x1="322.2" y1="64.48" x2="325.2" y2="64.48" stroke="#000" stroke-width="1.1" />
<line x1="322.2" y1="61.52" x2="325.2" y2="61.52" stroke="#000" stroke-width="1.1" />
<line x1="322.2" y1="58.56" x2="325.2" y2="58.56" stroke="#000" stroke-width="1.1" />
<line x1="320.6" y1="55.6" x2="325.2" y2="55.6" stroke="#000" stroke-width="1.3" />
<line x1="322.2" y1="52.64" x2="325.2" y2="52.64" stroke="#000" stroke-width="1.1" />
<line x1="322.2" y1="49.68" x2="325.2" y2="49.68" stroke="#000" stroke-width="1.1" />
<line x1="322.2" y1="46.72" x2="325.2" y2="46.72" stroke="#000" stroke-width="1.1" />
<line x1="322.2" y1="43.76" x2="325.2" y2="43.76" stroke="#000" stroke-width="1.1" />
<line x1="320.6" y1="40.8" x2="325.2" y2="40.8" stroke="#000" stroke-width="1.3" />
<line x1="322.2" y1="37.84" x2="325.2" y2="37.84" stroke="#000" stroke-width="1.1" />
<line x1="322.2" y1="34.88" x2="325.2" y2="34.88" stroke="#000" stroke-width="1.1" />
<line x1="322.2" y1="31.92" x2="325.2" y2="31.92" stroke="#000" stroke-width="1.1" />
<line x1="322.2" y1="28.96" x2="325.2" y2="28.96" stroke="#000" stroke-width="1.1" />
<line x1="320.6" y1="26" x2="325.2" y2="26" stroke="#000" stroke-width="1.3" />
<line x1="325.2" y1="100" x2="325.2" y2="103.6" stroke="#000" stroke-width="1.0" />
<line x1="329.93" y1="100" x2="329.93" y2="103" stroke="#000" stroke-width="1.0" />
<line x1="332.69" y1="100" x2="332.69" y2="103" stroke="#000" stroke-width="1.0" />
<line x1="334.65" y1="100" x2="334.65" y2="103" stroke="#000" stroke-width="1.0" />
<line x1="336.17" y1="100" x2="336.17" y2="103" stroke="#000" stroke-width="1.0" />
<line x1="337.42" y1="100" x2="337.42" y2="103" stroke="#000" stroke-width="1.0" />
<line x1="338.47" y1="100" x2="338.47" y2="103" stroke="#000" stroke-width="1.0" />
<line x1="339.38" y1="100" x2="339.38" y2="103" stroke="#000" stroke-width="1.0" />
<line x1="340.18" y1="100" x2="340.18" y2="103" stroke="#000" stroke-width="1.0" />
<line x1="340.9" y1="100" x2="340.9" y2="103.6" stroke="#000" stroke-width="1.0" />
<line x1="345.63" y1="100" x2="345.63" y2="103" stroke="#000" stroke-width="1.0" />
<line x1="348.39" y1="100" x2="348.39" y2="103" stroke="#000" stroke-width="1.0" />
<line x1="350.35" y1="100" x2="350.35" y2="103" stroke="#000" stroke-width="1.0" />
<line x1="351.87" y1="100" x2="351.87" y2="103" stroke="#000" stroke-width="1.0" />
<line x1="353.12" y1="100" x2="353.12" y2="103" stroke="#000" stroke-width="1.0" />
<line x1="354.17" y1="100" x2="354.17" y2="103" stroke="#000" stroke-width="1.0" />
<line x1="355.08" y1="100" x2="355.08" y2="103" stroke="#000" stroke-width="1.0" />
<line x1="355.88" y1="100" x2="355.88" y2="103" stroke="#000" stroke-width="1.0" />
<line x1="356.6" y1="100" x2="356.6" y2="103.6" stroke="#000" stroke-width="1.0" />
<line x1="361.33" y1="100" x2="361.33" y2="103" stroke="#000" stroke-width="1.0" />
<line x1="364.09" y1="100" x2="364.09" y2="103" stroke="#000" stroke-width="1.0" />
<line x1="366.05" y1="100" x2="366.05" y2="103" stroke="#000" stroke-width="1.0" />
<line x1="367.57" y1="100" x2="367.57" y2="103" stroke="#000" stroke-width="1.0" />
<line x1="368.82" y1="100" x2="368.82" y2="103" stroke="#000" stroke-width="1.0" />
<line x1="369.87" y1="100" x2="369.87" y2="103" stroke="#000" stroke-width="1.0" />
<line x1="370.78" y1="100" x2="370.78" y2="103" stroke="#000" stroke-width="1.0" />
<line x1="371.58" y1="100" x2="371.58" y2="103" stroke="#000" stroke-width="1.0" />
<line x1="372.3" y1="100" x2="372.3" y2="103.6" stroke="#000" stroke-width="1.0" />
<line x1="377.03" y1="100" x2="377.03" y2="103" stroke="#000" stroke-width="1.0" />
<line x1="379.79" y1="100" x2="379.79" y2="103" stroke="#000" stroke-width="1.0" />
<line x1="381.75" y1="100" x2="381.75" y2="103" stroke="#000" stroke-width="1.0" />
<line x1="383.27" y1="100" x2="383.27" y2="103" stroke="#000" stroke-width="1.0" />
<line x1="384.52" y1="100" x2="384.52" y2="103" stroke="#000" stroke-width="1.0" />
<line x1="385.57" y1="100" x2="385.57" y2="103" stroke="#000" stroke-width="1.0" />
<line x1="386.48" y1="100" x2="386.48" y2="103" stroke="#000" stroke-width="1.0" />
<line x1="387.28" y1="100" x2="387.28" y2="103" stroke="#000" stroke-width="1.0" />
<line x1="388" y1="100" x2="388" y2="103.6" stroke="#000" stroke-width="1.0" />
<line x1="392.73" y1="100" x2="392.73" y2="103" stroke="#000" stroke-width="1.0" />
<line x1="395.49" y1="100" x2="395.49" y2="103" stroke="#000" stroke-width="1.0" />
<line x1="397.45" y1="100" x2="397.45" y2="103" stroke="#000" stroke-width="1.0" />
<line x1="398.97" y1="100" x2="398.97" y2="103" stroke="#000" stroke-width="1.0" />
<line x1="400.22" y1="100" x2="400.22" y2="103" stroke="#000" stroke-width="1.0" />
<line x1="401.27" y1="100" x2="401.27" y2="103" stroke="#000" stroke-width="1.0" />
<line x1="402.18" y1="100" x2="402.18" y2="103" stroke="#000" stroke-width="1.0" />
<line x1="402.98" y1="100" x2="402.98" y2="103" stroke="#000" stroke-width="1.0" />
<line x1="403.7" y1="100" x2="403.7" y2="102.8" stroke="#000" stroke-width="0.8" />
<rect x="325.2" y="22.4" width="78.5" height="77.6" fill="none" stroke="#000" stroke-width="1.3"/>
<text x="364.45" y="19.1" font-size="8" text-anchor="middle" fill="#111" font-weight="bold" font-style="normal" stroke="#111" stroke-width="0.35">Patient-4</text>
<text x="401.8" y="29.7" font-size="7.8" text-anchor="end" fill="#2a2a2a" font-weight="normal" font-style="normal" stroke="none" textLength="10.08" lengthAdjust="spacingAndGlyphs">1.5</text>
<clipPath id="cPatient5"><rect x="426.6" y="22.4" width="79" height="78.6"/></clipPath>
<path d="M426.6,100 L426.6,95.88 L427.1,95.46 L427.6,95.01 L428.1,94.52 L428.6,94.02 L429.1,93.49 L429.6,92.94 L430.1,92.36 L430.6,91.77 L431.1,91.17 L431.6,90.54 L432.1,89.88 L432.6,89.19 L433.1,88.47 L433.6,87.69 L434.1,86.87 L434.6,86 L435.1,85.06 L435.6,84.03 L436.1,82.85 L436.6,81.55 L437.1,80.16 L437.6,78.68 L438.1,77.17 L438.6,75.62 L439.1,74.08 L439.6,72.54 L440.1,70.96 L440.6,69.33 L441.1,67.63 L441.6,65.83 L442.1,63.92 L442.6,61.86 L443.1,59.59 L443.6,57.18 L444.1,54.68 L444.6,52.16 L445.1,49.5 L445.6,46.73 L446.1,43.96 L446.6,41.27 L447.1,38.68 L447.6,35.95 L448.1,33.31 L448.6,31.03 L449.1,29.38 L449.6,28.15 L450.1,27.08 L450.6,26.41 L451.1,26.32 L451.6,26.78 L452.1,27.61 L452.6,28.68 L453.1,29.93 L453.6,31.89 L454.1,34.54 L454.6,37.67 L455.1,41.1 L455.6,45.07 L456.1,50.02 L456.6,55.29 L457.1,60.36 L457.6,65.56 L458.1,70.66 L458.6,75.52 L459.1,80.35 L459.6,84.62 L460.1,87.96 L460.6,90.94 L461.1,93.47 L461.6,95.31 L462.1,96.55 L462.6,97.68 L463.1,98.66 L463.6,99.41 L464.1,99.88 L464.5,100 L464.5,100 Z" fill="#c4001a" clip-path="url(#cPatient5)"/>
<path d="M426,95.58 L426.5,95.19 L427,94.77 L427.5,94.32 L428,93.85 L428.5,93.35 L429,92.82 L429.5,92.27 L430,91.7 L430.5,91.12 L431,90.51 L431.5,89.89 L432,89.24 L432.5,88.56 L433,87.84 L433.5,87.08 L434,86.27 L434.5,85.4 L435,84.48 L435.5,83.47 L436,82.32 L436.5,81.05 L437,79.67 L437.5,78.21 L438,76.7 L438.5,75.16 L439,73.61 L439.5,72.07 L440,70.5 L440.5,68.89 L441,67.2 L441.5,65.42 L442,63.54 L442.5,61.51 L443,59.28 L443.5,56.89 L444,54.41 L444.5,51.89 L445,49.27 L445.5,46.52 L446,43.73 L446.5,41.02 L447,38.44 L447.5,35.73 L448,33.05 L448.5,30.67 L449,28.87 L449.5,27.62 L450,26.5 L450.5,25.72 L451,25.52 L451.5,25.87 L452,26.64 L452.5,27.68 L453,28.86 L453.5,30.67 L454,33.19 L454.5,36.24 L455,39.62 L455.5,43.4 L456,48.21 L456.5,53.47 L457,58.56 L457.5,63.74 L458,68.89 L458.5,73.76 L459,78.64 L459.5,83.07 L460,86.54 L460.5,89.55 L461,92.15 L461.5,94.18 L462,95.64 L462.5,96.97 L463,98.16 L463.5,99.13 L464,99.77 L464.5,100 L465,100 L465.5,100 L466,100 L466.5,100 L467,100 L467.5,100 L468,100 L468.5,100 L469,100 L469.5,100 L470,100 L470.5,100 L471,100 L471.5,100 L472,100 L472.5,100 L473,100 L473.5,100 L474,100 L474.5,100 L475,100 L475.5,100 L476,100 L476.5,100 L477,100 L477.5,100 L478,100 L478.5,100 L479,100 L479.5,100 L480,100 L480.5,100 L481,100 L481.5,100 L482,100 L482.5,100 L483,100 L483.5,100 L484,100 L484.5,100 L485,100 L485.5,100 L486,100 L486.5,100 L487,100 L487.5,100 L488,100 L488.5,100 L489,100 L489.5,100 L490,100 L490.5,100 L491,100 L491.5,100 L492,100 L492.5,100 L493,100 L493.5,100 L494,100 L494.5,100 L495,100 L495.5,100 L496,100 L496.5,100 L497,100 L497.5,100 L498,100 L498.5,100 L499,100 L499.5,100 L500,100 L500.5,100 L501,100 L501.5,100 L502,100 L502.5,100 L503,100 L503.5,100 L504,100 L504.5,100 L505,100 L505.5,100 L506,100 L506.5,100 L507,100" fill="none" stroke="#0b2fb0" stroke-width="1.7" stroke-linejoin="round" clip-path="url(#cPatient5)"/>
<line x1="422" y1="100" x2="426.6" y2="100" stroke="#000" stroke-width="1.3" />
<line x1="423.6" y1="97.04" x2="426.6" y2="97.04" stroke="#000" stroke-width="1.1" />
<line x1="423.6" y1="94.08" x2="426.6" y2="94.08" stroke="#000" stroke-width="1.1" />
<line x1="423.6" y1="91.12" x2="426.6" y2="91.12" stroke="#000" stroke-width="1.1" />
<line x1="423.6" y1="88.16" x2="426.6" y2="88.16" stroke="#000" stroke-width="1.1" />
<line x1="422" y1="85.2" x2="426.6" y2="85.2" stroke="#000" stroke-width="1.3" />
<line x1="423.6" y1="82.24" x2="426.6" y2="82.24" stroke="#000" stroke-width="1.1" />
<line x1="423.6" y1="79.28" x2="426.6" y2="79.28" stroke="#000" stroke-width="1.1" />
<line x1="423.6" y1="76.32" x2="426.6" y2="76.32" stroke="#000" stroke-width="1.1" />
<line x1="423.6" y1="73.36" x2="426.6" y2="73.36" stroke="#000" stroke-width="1.1" />
<line x1="422" y1="70.4" x2="426.6" y2="70.4" stroke="#000" stroke-width="1.3" />
<line x1="423.6" y1="67.44" x2="426.6" y2="67.44" stroke="#000" stroke-width="1.1" />
<line x1="423.6" y1="64.48" x2="426.6" y2="64.48" stroke="#000" stroke-width="1.1" />
<line x1="423.6" y1="61.52" x2="426.6" y2="61.52" stroke="#000" stroke-width="1.1" />
<line x1="423.6" y1="58.56" x2="426.6" y2="58.56" stroke="#000" stroke-width="1.1" />
<line x1="422" y1="55.6" x2="426.6" y2="55.6" stroke="#000" stroke-width="1.3" />
<line x1="423.6" y1="52.64" x2="426.6" y2="52.64" stroke="#000" stroke-width="1.1" />
<line x1="423.6" y1="49.68" x2="426.6" y2="49.68" stroke="#000" stroke-width="1.1" />
<line x1="423.6" y1="46.72" x2="426.6" y2="46.72" stroke="#000" stroke-width="1.1" />
<line x1="423.6" y1="43.76" x2="426.6" y2="43.76" stroke="#000" stroke-width="1.1" />
<line x1="422" y1="40.8" x2="426.6" y2="40.8" stroke="#000" stroke-width="1.3" />
<line x1="423.6" y1="37.84" x2="426.6" y2="37.84" stroke="#000" stroke-width="1.1" />
<line x1="423.6" y1="34.88" x2="426.6" y2="34.88" stroke="#000" stroke-width="1.1" />
<line x1="423.6" y1="31.92" x2="426.6" y2="31.92" stroke="#000" stroke-width="1.1" />
<line x1="423.6" y1="28.96" x2="426.6" y2="28.96" stroke="#000" stroke-width="1.1" />
<line x1="422" y1="26" x2="426.6" y2="26" stroke="#000" stroke-width="1.3" />
<line x1="426.6" y1="100" x2="426.6" y2="103.6" stroke="#000" stroke-width="1.0" />
<line x1="431.36" y1="100" x2="431.36" y2="103" stroke="#000" stroke-width="1.0" />
<line x1="434.14" y1="100" x2="434.14" y2="103" stroke="#000" stroke-width="1.0" />
<line x1="436.11" y1="100" x2="436.11" y2="103" stroke="#000" stroke-width="1.0" />
<line x1="437.64" y1="100" x2="437.64" y2="103" stroke="#000" stroke-width="1.0" />
<line x1="438.89" y1="100" x2="438.89" y2="103" stroke="#000" stroke-width="1.0" />
<line x1="439.95" y1="100" x2="439.95" y2="103" stroke="#000" stroke-width="1.0" />
<line x1="440.87" y1="100" x2="440.87" y2="103" stroke="#000" stroke-width="1.0" />
<line x1="441.68" y1="100" x2="441.68" y2="103" stroke="#000" stroke-width="1.0" />
<line x1="442.4" y1="100" x2="442.4" y2="103.6" stroke="#000" stroke-width="1.0" />
<line x1="447.16" y1="100" x2="447.16" y2="103" stroke="#000" stroke-width="1.0" />
<line x1="449.94" y1="100" x2="449.94" y2="103" stroke="#000" stroke-width="1.0" />
<line x1="451.91" y1="100" x2="451.91" y2="103" stroke="#000" stroke-width="1.0" />
<line x1="453.44" y1="100" x2="453.44" y2="103" stroke="#000" stroke-width="1.0" />
<line x1="454.69" y1="100" x2="454.69" y2="103" stroke="#000" stroke-width="1.0" />
<line x1="455.75" y1="100" x2="455.75" y2="103" stroke="#000" stroke-width="1.0" />
<line x1="456.67" y1="100" x2="456.67" y2="103" stroke="#000" stroke-width="1.0" />
<line x1="457.48" y1="100" x2="457.48" y2="103" stroke="#000" stroke-width="1.0" />
<line x1="458.2" y1="100" x2="458.2" y2="103.6" stroke="#000" stroke-width="1.0" />
<line x1="462.96" y1="100" x2="462.96" y2="103" stroke="#000" stroke-width="1.0" />
<line x1="465.74" y1="100" x2="465.74" y2="103" stroke="#000" stroke-width="1.0" />
<line x1="467.71" y1="100" x2="467.71" y2="103" stroke="#000" stroke-width="1.0" />
<line x1="469.24" y1="100" x2="469.24" y2="103" stroke="#000" stroke-width="1.0" />
<line x1="470.49" y1="100" x2="470.49" y2="103" stroke="#000" stroke-width="1.0" />
<line x1="471.55" y1="100" x2="471.55" y2="103" stroke="#000" stroke-width="1.0" />
<line x1="472.47" y1="100" x2="472.47" y2="103" stroke="#000" stroke-width="1.0" />
<line x1="473.28" y1="100" x2="473.28" y2="103" stroke="#000" stroke-width="1.0" />
<line x1="474" y1="100" x2="474" y2="103.6" stroke="#000" stroke-width="1.0" />
<line x1="478.76" y1="100" x2="478.76" y2="103" stroke="#000" stroke-width="1.0" />
<line x1="481.54" y1="100" x2="481.54" y2="103" stroke="#000" stroke-width="1.0" />
<line x1="483.51" y1="100" x2="483.51" y2="103" stroke="#000" stroke-width="1.0" />
<line x1="485.04" y1="100" x2="485.04" y2="103" stroke="#000" stroke-width="1.0" />
<line x1="486.29" y1="100" x2="486.29" y2="103" stroke="#000" stroke-width="1.0" />
<line x1="487.35" y1="100" x2="487.35" y2="103" stroke="#000" stroke-width="1.0" />
<line x1="488.27" y1="100" x2="488.27" y2="103" stroke="#000" stroke-width="1.0" />
<line x1="489.08" y1="100" x2="489.08" y2="103" stroke="#000" stroke-width="1.0" />
<line x1="489.8" y1="100" x2="489.8" y2="103.6" stroke="#000" stroke-width="1.0" />
<line x1="494.56" y1="100" x2="494.56" y2="103" stroke="#000" stroke-width="1.0" />
<line x1="497.34" y1="100" x2="497.34" y2="103" stroke="#000" stroke-width="1.0" />
<line x1="499.31" y1="100" x2="499.31" y2="103" stroke="#000" stroke-width="1.0" />
<line x1="500.84" y1="100" x2="500.84" y2="103" stroke="#000" stroke-width="1.0" />
<line x1="502.09" y1="100" x2="502.09" y2="103" stroke="#000" stroke-width="1.0" />
<line x1="503.15" y1="100" x2="503.15" y2="103" stroke="#000" stroke-width="1.0" />
<line x1="504.07" y1="100" x2="504.07" y2="103" stroke="#000" stroke-width="1.0" />
<line x1="504.88" y1="100" x2="504.88" y2="103" stroke="#000" stroke-width="1.0" />
<line x1="505.6" y1="100" x2="505.6" y2="102.8" stroke="#000" stroke-width="0.8" />
<rect x="426.6" y="22.4" width="79" height="77.6" fill="none" stroke="#000" stroke-width="1.3"/>
<text x="466.1" y="19.1" font-size="8" text-anchor="middle" fill="#111" font-weight="bold" font-style="normal" stroke="#111" stroke-width="0.35">Patient-5</text>
<text x="503.7" y="29.7" font-size="7.8" text-anchor="end" fill="#2a2a2a" font-weight="normal" font-style="normal" stroke="none" textLength="10.08" lengthAdjust="spacingAndGlyphs">0.9</text>
<clipPath id="cPatient6"><rect x="28.1" y="118.3" width="79.2" height="79.7"/></clipPath>
<path d="M53.4,197 L53.4,197 L53.9,196.91 L54.4,196.79 L54.9,196.63 L55.4,196.45 L55.9,196.25 L56.4,196.03 L56.9,195.76 L57.4,195.45 L57.9,195.1 L58.4,194.72 L58.9,194.29 L59.4,193.79 L59.9,193.23 L60.4,192.63 L60.9,192 L61.4,191.36 L61.9,190.73 L62.4,190.07 L62.9,189.37 L63.4,188.6 L63.9,187.74 L64.4,186.76 L64.9,185.63 L65.4,184.33 L65.9,182.87 L66.4,181.23 L66.9,179.28 L67.4,177.02 L67.9,174.48 L68.4,171.7 L68.9,168.72 L69.4,165.51 L69.9,161.79 L70.4,157.68 L70.9,153.32 L71.4,148.48 L71.9,143.25 L72.4,138.26 L72.9,133.21 L73.4,128.6 L73.9,125.26 L74.4,122.6 L74.9,122.17 L75.4,123.8 L75.9,126.48 L76.4,131.83 L76.9,139.23 L77.4,146.9 L77.9,154.92 L78.4,163.13 L78.9,170.02 L79.4,175.78 L79.9,180.7 L80.4,184.94 L80.9,188.7 L81.4,191.49 L81.9,193.4 L82.4,194.88 L82.9,196.03 L83.4,196.87 L83.5,197 L83.5,197 Z" fill="#c4001a" clip-path="url(#cPatient6)"/>
<path d="M28,192.67 L28.5,192.45 L29,192.19 L29.5,191.88 L30,191.54 L30.5,191.16 L31,190.74 L31.5,190.29 L32,189.8 L32.5,189.28 L33,188.74 L33.5,188.16 L34,187.55 L34.5,186.91 L35,186.24 L35.5,185.54 L36,184.76 L36.5,183.9 L37,182.96 L37.5,181.95 L38,180.88 L38.5,179.76 L39,178.59 L39.5,177.37 L40,176.02 L40.5,174.57 L41,173.02 L41.5,171.4 L42,169.71 L42.5,167.86 L43,165.89 L43.5,163.88 L44,161.9 L44.5,159.97 L45,158 L45.5,155.88 L46,153.54 L46.5,150.98 L47,148.24 L47.5,145.35 L48,142.35 L48.5,139.1 L49,135.31 L49.5,131.7 L50,129.03 L50.5,126.8 L51,124.72 L51.5,123.01 L52,121.91 L52.5,121.62 L53,122.02 L53.5,122.9 L54,124.17 L54.5,125.7 L55,128.48 L55.5,132.91 L56,137.97 L56.5,143.99 L57,150.82 L57.5,157.08 L58,163.08 L58.5,168.83 L59,174.71 L59.5,180.16 L60,183.88 L60.5,186.74 L61,189.1 L61.5,190.95 L62,192.31 L62.5,193.55 L63,194.68 L63.5,195.66 L64,196.41 L64.5,196.88 L65,197 L65.5,197 L66,197 L66.5,197 L67,197 L67.5,197 L68,197 L68.5,197 L69,197 L69.5,197 L70,197 L70.5,197 L71,197 L71.5,197 L72,197 L72.5,197 L73,197 L73.5,197 L74,197 L74.5,197 L75,197 L75.5,197 L76,197 L76.5,197 L77,197 L77.5,197 L78,197 L78.5,197 L79,197 L79.5,197 L80,197 L80.5,197 L81,197 L81.5,197 L82,197 L82.5,197 L83,197 L83.5,197 L84,197 L84.5,197 L85,197 L85.5,197 L86,197 L86.5,197 L87,197 L87.5,197 L88,197 L88.5,197 L89,197 L89.5,197 L90,197 L90.5,197 L91,197 L91.5,197 L92,197 L92.5,197 L93,197 L93.5,197 L94,197 L94.5,197 L95,197 L95.5,197 L96,197 L96.5,197 L97,197 L97.5,197 L98,197 L98.5,197 L99,197 L99.5,197 L100,197 L100.5,197 L101,197 L101.5,197 L102,197 L102.5,197 L103,197 L103.5,197 L104,197 L104.5,197 L105,197 L105.5,197 L106,197 L106.5,197 L107,197 L107.5,197 L108,197" fill="none" stroke="#0b2fb0" stroke-width="1.7" stroke-linejoin="round" clip-path="url(#cPatient6)"/>
<line x1="23.5" y1="197" x2="28.1" y2="197" stroke="#000" stroke-width="1.3" />
<line x1="25.1" y1="194" x2="28.1" y2="194" stroke="#000" stroke-width="1.1" />
<line x1="25.1" y1="190.99" x2="28.1" y2="190.99" stroke="#000" stroke-width="1.1" />
<line x1="25.1" y1="187.99" x2="28.1" y2="187.99" stroke="#000" stroke-width="1.1" />
<line x1="25.1" y1="184.98" x2="28.1" y2="184.98" stroke="#000" stroke-width="1.1" />
<line x1="23.5" y1="181.98" x2="28.1" y2="181.98" stroke="#000" stroke-width="1.3" />
<line x1="25.1" y1="178.98" x2="28.1" y2="178.98" stroke="#000" stroke-width="1.1" />
<line x1="25.1" y1="175.97" x2="28.1" y2="175.97" stroke="#000" stroke-width="1.1" />
<line x1="25.1" y1="172.97" x2="28.1" y2="172.97" stroke="#000" stroke-width="1.1" />
<line x1="25.1" y1="169.96" x2="28.1" y2="169.96" stroke="#000" stroke-width="1.1" />
<line x1="23.5" y1="166.96" x2="28.1" y2="166.96" stroke="#000" stroke-width="1.3" />
<line x1="25.1" y1="163.96" x2="28.1" y2="163.96" stroke="#000" stroke-width="1.1" />
<line x1="25.1" y1="160.95" x2="28.1" y2="160.95" stroke="#000" stroke-width="1.1" />
<line x1="25.1" y1="157.95" x2="28.1" y2="157.95" stroke="#000" stroke-width="1.1" />
<line x1="25.1" y1="154.94" x2="28.1" y2="154.94" stroke="#000" stroke-width="1.1" />
<line x1="23.5" y1="151.94" x2="28.1" y2="151.94" stroke="#000" stroke-width="1.3" />
<line x1="25.1" y1="148.94" x2="28.1" y2="148.94" stroke="#000" stroke-width="1.1" />
<line x1="25.1" y1="145.93" x2="28.1" y2="145.93" stroke="#000" stroke-width="1.1" />
<line x1="25.1" y1="142.93" x2="28.1" y2="142.93" stroke="#000" stroke-width="1.1" />
<line x1="25.1" y1="139.92" x2="28.1" y2="139.92" stroke="#000" stroke-width="1.1" />
<line x1="23.5" y1="136.92" x2="28.1" y2="136.92" stroke="#000" stroke-width="1.3" />
<line x1="25.1" y1="133.92" x2="28.1" y2="133.92" stroke="#000" stroke-width="1.1" />
<line x1="25.1" y1="130.91" x2="28.1" y2="130.91" stroke="#000" stroke-width="1.1" />
<line x1="25.1" y1="127.91" x2="28.1" y2="127.91" stroke="#000" stroke-width="1.1" />
<line x1="25.1" y1="124.9" x2="28.1" y2="124.9" stroke="#000" stroke-width="1.1" />
<line x1="23.5" y1="121.9" x2="28.1" y2="121.9" stroke="#000" stroke-width="1.3" />
<line x1="28.1" y1="197" x2="28.1" y2="200.6" stroke="#000" stroke-width="1.0" />
<line x1="32.87" y1="197" x2="32.87" y2="200" stroke="#000" stroke-width="1.0" />
<line x1="35.66" y1="197" x2="35.66" y2="200" stroke="#000" stroke-width="1.0" />
<line x1="37.64" y1="197" x2="37.64" y2="200" stroke="#000" stroke-width="1.0" />
<line x1="39.17" y1="197" x2="39.17" y2="200" stroke="#000" stroke-width="1.0" />
<line x1="40.43" y1="197" x2="40.43" y2="200" stroke="#000" stroke-width="1.0" />
<line x1="41.49" y1="197" x2="41.49" y2="200" stroke="#000" stroke-width="1.0" />
<line x1="42.4" y1="197" x2="42.4" y2="200" stroke="#000" stroke-width="1.0" />
<line x1="43.22" y1="197" x2="43.22" y2="200" stroke="#000" stroke-width="1.0" />
<line x1="43.94" y1="197" x2="43.94" y2="200.6" stroke="#000" stroke-width="1.0" />
<line x1="48.71" y1="197" x2="48.71" y2="200" stroke="#000" stroke-width="1.0" />
<line x1="51.5" y1="197" x2="51.5" y2="200" stroke="#000" stroke-width="1.0" />
<line x1="53.48" y1="197" x2="53.48" y2="200" stroke="#000" stroke-width="1.0" />
<line x1="55.01" y1="197" x2="55.01" y2="200" stroke="#000" stroke-width="1.0" />
<line x1="56.27" y1="197" x2="56.27" y2="200" stroke="#000" stroke-width="1.0" />
<line x1="57.33" y1="197" x2="57.33" y2="200" stroke="#000" stroke-width="1.0" />
<line x1="58.24" y1="197" x2="58.24" y2="200" stroke="#000" stroke-width="1.0" />
<line x1="59.06" y1="197" x2="59.06" y2="200" stroke="#000" stroke-width="1.0" />
<line x1="59.78" y1="197" x2="59.78" y2="200.6" stroke="#000" stroke-width="1.0" />
<line x1="64.55" y1="197" x2="64.55" y2="200" stroke="#000" stroke-width="1.0" />
<line x1="67.34" y1="197" x2="67.34" y2="200" stroke="#000" stroke-width="1.0" />
<line x1="69.32" y1="197" x2="69.32" y2="200" stroke="#000" stroke-width="1.0" />
<line x1="70.85" y1="197" x2="70.85" y2="200" stroke="#000" stroke-width="1.0" />
<line x1="72.11" y1="197" x2="72.11" y2="200" stroke="#000" stroke-width="1.0" />
<line x1="73.17" y1="197" x2="73.17" y2="200" stroke="#000" stroke-width="1.0" />
<line x1="74.08" y1="197" x2="74.08" y2="200" stroke="#000" stroke-width="1.0" />
<line x1="74.9" y1="197" x2="74.9" y2="200" stroke="#000" stroke-width="1.0" />
<line x1="75.62" y1="197" x2="75.62" y2="200.6" stroke="#000" stroke-width="1.0" />
<line x1="80.39" y1="197" x2="80.39" y2="200" stroke="#000" stroke-width="1.0" />
<line x1="83.18" y1="197" x2="83.18" y2="200" stroke="#000" stroke-width="1.0" />
<line x1="85.16" y1="197" x2="85.16" y2="200" stroke="#000" stroke-width="1.0" />
<line x1="86.69" y1="197" x2="86.69" y2="200" stroke="#000" stroke-width="1.0" />
<line x1="87.95" y1="197" x2="87.95" y2="200" stroke="#000" stroke-width="1.0" />
<line x1="89.01" y1="197" x2="89.01" y2="200" stroke="#000" stroke-width="1.0" />
<line x1="89.92" y1="197" x2="89.92" y2="200" stroke="#000" stroke-width="1.0" />
<line x1="90.74" y1="197" x2="90.74" y2="200" stroke="#000" stroke-width="1.0" />
<line x1="91.46" y1="197" x2="91.46" y2="200.6" stroke="#000" stroke-width="1.0" />
<line x1="96.23" y1="197" x2="96.23" y2="200" stroke="#000" stroke-width="1.0" />
<line x1="99.02" y1="197" x2="99.02" y2="200" stroke="#000" stroke-width="1.0" />
<line x1="101" y1="197" x2="101" y2="200" stroke="#000" stroke-width="1.0" />
<line x1="102.53" y1="197" x2="102.53" y2="200" stroke="#000" stroke-width="1.0" />
<line x1="103.79" y1="197" x2="103.79" y2="200" stroke="#000" stroke-width="1.0" />
<line x1="104.85" y1="197" x2="104.85" y2="200" stroke="#000" stroke-width="1.0" />
<line x1="105.76" y1="197" x2="105.76" y2="200" stroke="#000" stroke-width="1.0" />
<line x1="106.58" y1="197" x2="106.58" y2="200" stroke="#000" stroke-width="1.0" />
<line x1="107.3" y1="197" x2="107.3" y2="199.8" stroke="#000" stroke-width="0.8" />
<rect x="28.1" y="118.3" width="79.2" height="78.7" fill="none" stroke="#000" stroke-width="1.3"/>
<text x="65.7" y="115" font-size="8" text-anchor="middle" fill="#111" font-weight="bold" font-style="normal" stroke="#111" stroke-width="0.35">Patient-6</text>
<text x="105.4" y="125.6" font-size="7.8" text-anchor="end" fill="#2a2a2a" font-weight="normal" font-style="italic" stroke="none" textLength="14.12" lengthAdjust="spacingAndGlyphs">39.6</text>
<clipPath id="cPatient7"><rect x="125.2" y="118.3" width="78.9" height="79.7"/></clipPath>
<path d="M125.2,197 L125.2,195.21 L125.7,194.67 L126.2,194.17 L126.7,193.7 L127.2,193.25 L127.7,192.82 L128.2,192.4 L128.7,191.98 L129.2,191.54 L129.7,191.08 L130.2,190.63 L130.7,190.18 L131.2,189.73 L131.7,189.28 L132.2,188.81 L132.7,188.34 L133.2,187.84 L133.7,187.33 L134.2,186.78 L134.7,186.19 L135.2,185.57 L135.7,184.91 L136.2,184.2 L136.7,183.45 L137.2,182.66 L137.7,181.81 L138.2,180.91 L138.7,179.96 L139.2,178.96 L139.7,177.89 L140.2,176.75 L140.7,175.48 L141.2,174.08 L141.7,172.52 L142.2,170.77 L142.7,168.68 L143.2,166.1 L143.7,163.26 L144.2,160.17 L144.7,156.8 L145.2,153.89 L145.7,151.43 L146.2,148.99 L146.7,146.34 L147.2,143.65 L147.7,141.12 L148.2,138.84 L148.7,136.7 L149.2,134.63 L149.7,132.57 L150.2,130.32 L150.7,128.15 L151.2,126.4 L151.7,125.34 L152.2,124.49 L152.7,123.73 L153.2,123.09 L153.7,122.61 L154.2,122.31 L154.7,122.24 L155.2,122.47 L155.7,122.97 L156.2,123.68 L156.7,124.55 L157.2,125.5 L157.7,126.69 L158.2,128.42 L158.7,130.54 L159.2,132.89 L159.7,135.32 L160.2,138.06 L160.7,141.14 L161.2,144.41 L161.7,147.7 L162.2,150.93 L162.7,154.25 L163.2,157.61 L163.7,160.95 L164.2,164.18 L164.7,167.43 L165.2,170.71 L165.7,173.86 L166.2,176.67 L166.7,178.99 L167.2,181.09 L167.7,183.04 L168.2,184.81 L168.7,186.42 L169.2,187.83 L169.7,189.04 L170.2,190.13 L170.7,191.11 L171.2,192.01 L171.7,192.81 L172.2,193.53 L172.7,194.17 L173.2,194.75 L173.7,195.3 L174.2,195.8 L174.7,196.25 L175.2,196.64 L175.7,196.95 L175.8,197 L175.8,197 Z" fill="#c4001a" clip-path="url(#cPatient7)"/>
<line x1="120.6" y1="197" x2="125.2" y2="197" stroke="#000" stroke-width="1.3" />
<line x1="122.2" y1="194" x2="125.2" y2="194" stroke="#000" stroke-width="1.1" />
<line x1="122.2" y1="190.99" x2="125.2" y2="190.99" stroke="#000" stroke-width="1.1" />
<line x1="122.2" y1="187.99" x2="125.2" y2="187.99" stroke="#000" stroke-width="1.1" />
<line x1="122.2" y1="184.98" x2="125.2" y2="184.98" stroke="#000" stroke-width="1.1" />
<line x1="120.6" y1="181.98" x2="125.2" y2="181.98" stroke="#000" stroke-width="1.3" />
<line x1="122.2" y1="178.98" x2="125.2" y2="178.98" stroke="#000" stroke-width="1.1" />
<line x1="122.2" y1="175.97" x2="125.2" y2="175.97" stroke="#000" stroke-width="1.1" />
<line x1="122.2" y1="172.97" x2="125.2" y2="172.97" stroke="#000" stroke-width="1.1" />
<line x1="122.2" y1="169.96" x2="125.2" y2="169.96" stroke="#000" stroke-width="1.1" />
<line x1="120.6" y1="166.96" x2="125.2" y2="166.96" stroke="#000" stroke-width="1.3" />
<line x1="122.2" y1="163.96" x2="125.2" y2="163.96" stroke="#000" stroke-width="1.1" />
<line x1="122.2" y1="160.95" x2="125.2" y2="160.95" stroke="#000" stroke-width="1.1" />
<line x1="122.2" y1="157.95" x2="125.2" y2="157.95" stroke="#000" stroke-width="1.1" />
<line x1="122.2" y1="154.94" x2="125.2" y2="154.94" stroke="#000" stroke-width="1.1" />
<line x1="120.6" y1="151.94" x2="125.2" y2="151.94" stroke="#000" stroke-width="1.3" />
<line x1="122.2" y1="148.94" x2="125.2" y2="148.94" stroke="#000" stroke-width="1.1" />
<line x1="122.2" y1="145.93" x2="125.2" y2="145.93" stroke="#000" stroke-width="1.1" />
<line x1="122.2" y1="142.93" x2="125.2" y2="142.93" stroke="#000" stroke-width="1.1" />
<line x1="122.2" y1="139.92" x2="125.2" y2="139.92" stroke="#000" stroke-width="1.1" />
<line x1="120.6" y1="136.92" x2="125.2" y2="136.92" stroke="#000" stroke-width="1.3" />
<line x1="122.2" y1="133.92" x2="125.2" y2="133.92" stroke="#000" stroke-width="1.1" />
<line x1="122.2" y1="130.91" x2="125.2" y2="130.91" stroke="#000" stroke-width="1.1" />
<line x1="122.2" y1="127.91" x2="125.2" y2="127.91" stroke="#000" stroke-width="1.1" />
<line x1="122.2" y1="124.9" x2="125.2" y2="124.9" stroke="#000" stroke-width="1.1" />
<line x1="120.6" y1="121.9" x2="125.2" y2="121.9" stroke="#000" stroke-width="1.3" />
<line x1="125.2" y1="197" x2="125.2" y2="200.6" stroke="#000" stroke-width="1.0" />
<line x1="129.95" y1="197" x2="129.95" y2="200" stroke="#000" stroke-width="1.0" />
<line x1="132.73" y1="197" x2="132.73" y2="200" stroke="#000" stroke-width="1.0" />
<line x1="134.7" y1="197" x2="134.7" y2="200" stroke="#000" stroke-width="1.0" />
<line x1="136.23" y1="197" x2="136.23" y2="200" stroke="#000" stroke-width="1.0" />
<line x1="137.48" y1="197" x2="137.48" y2="200" stroke="#000" stroke-width="1.0" />
<line x1="138.54" y1="197" x2="138.54" y2="200" stroke="#000" stroke-width="1.0" />
<line x1="139.45" y1="197" x2="139.45" y2="200" stroke="#000" stroke-width="1.0" />
<line x1="140.26" y1="197" x2="140.26" y2="200" stroke="#000" stroke-width="1.0" />
<line x1="140.98" y1="197" x2="140.98" y2="200.6" stroke="#000" stroke-width="1.0" />
<line x1="145.73" y1="197" x2="145.73" y2="200" stroke="#000" stroke-width="1.0" />
<line x1="148.51" y1="197" x2="148.51" y2="200" stroke="#000" stroke-width="1.0" />
<line x1="150.48" y1="197" x2="150.48" y2="200" stroke="#000" stroke-width="1.0" />
<line x1="152.01" y1="197" x2="152.01" y2="200" stroke="#000" stroke-width="1.0" />
<line x1="153.26" y1="197" x2="153.26" y2="200" stroke="#000" stroke-width="1.0" />
<line x1="154.32" y1="197" x2="154.32" y2="200" stroke="#000" stroke-width="1.0" />
<line x1="155.23" y1="197" x2="155.23" y2="200" stroke="#000" stroke-width="1.0" />
<line x1="156.04" y1="197" x2="156.04" y2="200" stroke="#000" stroke-width="1.0" />
<line x1="156.76" y1="197" x2="156.76" y2="200.6" stroke="#000" stroke-width="1.0" />
<line x1="161.51" y1="197" x2="161.51" y2="200" stroke="#000" stroke-width="1.0" />
<line x1="164.29" y1="197" x2="164.29" y2="200" stroke="#000" stroke-width="1.0" />
<line x1="166.26" y1="197" x2="166.26" y2="200" stroke="#000" stroke-width="1.0" />
<line x1="167.79" y1="197" x2="167.79" y2="200" stroke="#000" stroke-width="1.0" />
<line x1="169.04" y1="197" x2="169.04" y2="200" stroke="#000" stroke-width="1.0" />
<line x1="170.1" y1="197" x2="170.1" y2="200" stroke="#000" stroke-width="1.0" />
<line x1="171.01" y1="197" x2="171.01" y2="200" stroke="#000" stroke-width="1.0" />
<line x1="171.82" y1="197" x2="171.82" y2="200" stroke="#000" stroke-width="1.0" />
<line x1="172.54" y1="197" x2="172.54" y2="200.6" stroke="#000" stroke-width="1.0" />
<line x1="177.29" y1="197" x2="177.29" y2="200" stroke="#000" stroke-width="1.0" />
<line x1="180.07" y1="197" x2="180.07" y2="200" stroke="#000" stroke-width="1.0" />
<line x1="182.04" y1="197" x2="182.04" y2="200" stroke="#000" stroke-width="1.0" />
<line x1="183.57" y1="197" x2="183.57" y2="200" stroke="#000" stroke-width="1.0" />
<line x1="184.82" y1="197" x2="184.82" y2="200" stroke="#000" stroke-width="1.0" />
<line x1="185.88" y1="197" x2="185.88" y2="200" stroke="#000" stroke-width="1.0" />
<line x1="186.79" y1="197" x2="186.79" y2="200" stroke="#000" stroke-width="1.0" />
<line x1="187.6" y1="197" x2="187.6" y2="200" stroke="#000" stroke-width="1.0" />
<line x1="188.32" y1="197" x2="188.32" y2="200.6" stroke="#000" stroke-width="1.0" />
<line x1="193.07" y1="197" x2="193.07" y2="200" stroke="#000" stroke-width="1.0" />
<line x1="195.85" y1="197" x2="195.85" y2="200" stroke="#000" stroke-width="1.0" />
<line x1="197.82" y1="197" x2="197.82" y2="200" stroke="#000" stroke-width="1.0" />
<line x1="199.35" y1="197" x2="199.35" y2="200" stroke="#000" stroke-width="1.0" />
<line x1="200.6" y1="197" x2="200.6" y2="200" stroke="#000" stroke-width="1.0" />
<line x1="201.66" y1="197" x2="201.66" y2="200" stroke="#000" stroke-width="1.0" />
<line x1="202.57" y1="197" x2="202.57" y2="200" stroke="#000" stroke-width="1.0" />
<line x1="203.38" y1="197" x2="203.38" y2="200" stroke="#000" stroke-width="1.0" />
<line x1="204.1" y1="197" x2="204.1" y2="199.8" stroke="#000" stroke-width="0.8" />
<rect x="125.2" y="118.3" width="78.9" height="78.7" fill="none" stroke="#000" stroke-width="1.3"/>
<path d="M125,191.1 L125.5,191.05 L126,190.91 L126.5,190.7 L127,190.42 L127.5,190.09 L128,189.72 L128.5,189.32 L129,188.91 L129.5,188.45 L130,187.85 L130.5,187.12 L131,186.28 L131.5,185.36 L132,184.4 L132.5,183.42 L133,182.44 L133.5,181.4 L134,180.29 L134.5,179.11 L135,177.88 L135.5,176.61 L136,175.3 L136.5,173.95 L137,172.53 L137.5,171.03 L138,169.46 L138.5,167.82 L139,166.15 L139.5,164.44 L140,162.56 L140.5,160.4 L141,157.73 L141.5,154.56 L142,151.12 L142.5,147.66 L143,144.31 L143.5,140.85 L144,137.38 L144.5,134 L145,130.72 L145.5,126.89 L146,123.42 L146.5,121.59 L147,121.78 L147.5,122.72 L148,124.22 L148.5,126.18 L149,130.72 L149.5,136.81 L150,142.81 L150.5,149.37 L151,156.18 L151.5,163.47 L152,170.03 L152.5,175.7 L153,180.76 L153.5,185.36 L154,189.75 L154.5,192.59 L155,194.07 L155.5,195.27 L156,196.08 L156.5,196.37 L157,196.37 L157.5,196.37 L158,196.37 L158.5,196.37 L159,196.37 L159.5,196.37 L160,196.37 L160.5,196.37 L161,196.37 L161.5,196.37 L162,196.37 L162.5,196.37 L163,196.37 L163.5,196.37 L164,196.37 L164.5,196.37 L165,196.37 L165.5,196.37 L166,196.37 L166.5,196.37 L167,196.37 L167.5,196.37 L168,196.37 L168.5,196.37 L169,196.37 L169.5,196.37 L170,196.37 L170.5,196.37 L171,196.37 L171.5,196.37 L172,196.37 L172.5,196.37 L173,196.37 L173.5,196.37 L174,196.37 L174.5,196.37 L175,196.37 L175.5,196.37 L176,196.37 L176.5,196.37 L177,196.37 L177.5,196.37 L178,196.37 L178.5,196.37 L179,196.37 L179.5,196.37 L180,196.37 L180.5,196.37 L181,196.37 L181.5,196.37 L182,196.37 L182.5,196.37 L183,196.37 L183.5,196.37 L184,196.37 L184.5,196.37 L185,196.37 L185.5,196.37 L186,196.37 L186.5,196.37 L187,196.37 L187.5,196.37 L188,196.37 L188.5,196.37 L189,196.37 L189.5,196.37 L190,196.37 L190.5,196.37 L191,196.37 L191.5,196.37 L192,196.37 L192.5,196.37 L193,196.37 L193.5,196.37 L194,196.37 L194.5,196.37 L195,196.37 L195.5,196.37 L196,196.37 L196.5,196.37 L197,196.37 L197.5,196.37 L198,196.37 L198.5,196.37 L199,196.37 L199.5,196.37 L200,196.37 L200.5,196.37 L201,196.37 L201.5,196.37 L202,196.37 L202.5,196.37 L203,196.37 L203.5,196.37 L204,196.37 L204.5,196.37 L205,196.37" fill="none" stroke="#0b2fb0" stroke-width="1.7" stroke-linejoin="round" clip-path="url(#cPatient7)"/>
<text x="164.65" y="115" font-size="8" text-anchor="middle" fill="#111" font-weight="bold" font-style="normal" stroke="#111" stroke-width="0.35">Patient-7</text>
<text x="202.2" y="125.6" font-size="7.8" text-anchor="end" fill="#2a2a2a" font-weight="normal" font-style="italic" stroke="none" textLength="10.08" lengthAdjust="spacingAndGlyphs">7.5</text>
<clipPath id="cPatient8"><rect x="224.2" y="118.3" width="78.5" height="79.7"/></clipPath>
<path d="M236.3,197 L236.3,197 L236.8,196.95 L237.3,196.88 L237.8,196.79 L238.3,196.69 L238.8,196.58 L239.3,196.46 L239.8,196.32 L240.3,196.18 L240.8,196.02 L241.3,195.86 L241.8,195.69 L242.3,195.51 L242.8,195.33 L243.3,195.14 L243.8,194.95 L244.3,194.76 L244.8,194.54 L245.3,194.3 L245.8,194.03 L246.3,193.75 L246.8,193.46 L247.3,193.14 L247.8,192.81 L248.3,192.47 L248.8,192.12 L249.3,191.76 L249.8,191.4 L250.3,191.02 L250.8,190.63 L251.3,190.22 L251.8,189.77 L252.3,189.28 L252.8,188.74 L253.3,188.12 L253.8,187.42 L254.3,186.65 L254.8,185.82 L255.3,184.94 L255.8,184.03 L256.3,183.09 L256.8,182.14 L257.3,181.19 L257.8,180.22 L258.3,179.21 L258.8,178.16 L259.3,177.06 L259.8,175.9 L260.3,174.68 L260.8,173.41 L261.3,172.11 L261.8,170.69 L262.3,169.04 L262.8,167.04 L263.3,164.26 L263.8,160.79 L264.3,157.02 L264.8,153.32 L265.3,149.71 L265.8,146 L266.3,142.23 L266.8,138.47 L267.3,134.3 L267.8,130.18 L268.3,126.95 L268.8,124.77 L269.3,122.98 L269.8,122.23 L270.3,122.95 L270.8,124.71 L271.3,126.99 L271.8,130.82 L272.3,135.97 L272.8,141.57 L273.3,148.31 L273.8,154.4 L274.3,159.4 L274.8,163.96 L275.3,168.38 L275.8,172.9 L276.3,177.23 L276.8,180.95 L277.3,183.86 L277.8,186.39 L278.3,188.63 L278.8,190.69 L279.3,192.68 L279.8,194.47 L280.3,195.75 L280.8,196.73 L281,197 L281,197 Z" fill="#c4001a" clip-path="url(#cPatient8)"/>
<line x1="219.6" y1="197" x2="224.2" y2="197" stroke="#000" stroke-width="1.3" />
<line x1="221.2" y1="194" x2="224.2" y2="194" stroke="#000" stroke-width="1.1" />
<line x1="221.2" y1="190.99" x2="224.2" y2="190.99" stroke="#000" stroke-width="1.1" />
<line x1="221.2" y1="187.99" x2="224.2" y2="187.99" stroke="#000" stroke-width="1.1" />
<line x1="221.2" y1="184.98" x2="224.2" y2="184.98" stroke="#000" stroke-width="1.1" />
<line x1="219.6" y1="181.98" x2="224.2" y2="181.98" stroke="#000" stroke-width="1.3" />
<line x1="221.2" y1="178.98" x2="224.2" y2="178.98" stroke="#000" stroke-width="1.1" />
<line x1="221.2" y1="175.97" x2="224.2" y2="175.97" stroke="#000" stroke-width="1.1" />
<line x1="221.2" y1="172.97" x2="224.2" y2="172.97" stroke="#000" stroke-width="1.1" />
<line x1="221.2" y1="169.96" x2="224.2" y2="169.96" stroke="#000" stroke-width="1.1" />
<line x1="219.6" y1="166.96" x2="224.2" y2="166.96" stroke="#000" stroke-width="1.3" />
<line x1="221.2" y1="163.96" x2="224.2" y2="163.96" stroke="#000" stroke-width="1.1" />
<line x1="221.2" y1="160.95" x2="224.2" y2="160.95" stroke="#000" stroke-width="1.1" />
<line x1="221.2" y1="157.95" x2="224.2" y2="157.95" stroke="#000" stroke-width="1.1" />
<line x1="221.2" y1="154.94" x2="224.2" y2="154.94" stroke="#000" stroke-width="1.1" />
<line x1="219.6" y1="151.94" x2="224.2" y2="151.94" stroke="#000" stroke-width="1.3" />
<line x1="221.2" y1="148.94" x2="224.2" y2="148.94" stroke="#000" stroke-width="1.1" />
<line x1="221.2" y1="145.93" x2="224.2" y2="145.93" stroke="#000" stroke-width="1.1" />
<line x1="221.2" y1="142.93" x2="224.2" y2="142.93" stroke="#000" stroke-width="1.1" />
<line x1="221.2" y1="139.92" x2="224.2" y2="139.92" stroke="#000" stroke-width="1.1" />
<line x1="219.6" y1="136.92" x2="224.2" y2="136.92" stroke="#000" stroke-width="1.3" />
<line x1="221.2" y1="133.92" x2="224.2" y2="133.92" stroke="#000" stroke-width="1.1" />
<line x1="221.2" y1="130.91" x2="224.2" y2="130.91" stroke="#000" stroke-width="1.1" />
<line x1="221.2" y1="127.91" x2="224.2" y2="127.91" stroke="#000" stroke-width="1.1" />
<line x1="221.2" y1="124.9" x2="224.2" y2="124.9" stroke="#000" stroke-width="1.1" />
<line x1="219.6" y1="121.9" x2="224.2" y2="121.9" stroke="#000" stroke-width="1.3" />
<line x1="224.2" y1="197" x2="224.2" y2="200.6" stroke="#000" stroke-width="1.0" />
<line x1="228.93" y1="197" x2="228.93" y2="200" stroke="#000" stroke-width="1.0" />
<line x1="231.69" y1="197" x2="231.69" y2="200" stroke="#000" stroke-width="1.0" />
<line x1="233.65" y1="197" x2="233.65" y2="200" stroke="#000" stroke-width="1.0" />
<line x1="235.17" y1="197" x2="235.17" y2="200" stroke="#000" stroke-width="1.0" />
<line x1="236.42" y1="197" x2="236.42" y2="200" stroke="#000" stroke-width="1.0" />
<line x1="237.47" y1="197" x2="237.47" y2="200" stroke="#000" stroke-width="1.0" />
<line x1="238.38" y1="197" x2="238.38" y2="200" stroke="#000" stroke-width="1.0" />
<line x1="239.18" y1="197" x2="239.18" y2="200" stroke="#000" stroke-width="1.0" />
<line x1="239.9" y1="197" x2="239.9" y2="200.6" stroke="#000" stroke-width="1.0" />
<line x1="244.63" y1="197" x2="244.63" y2="200" stroke="#000" stroke-width="1.0" />
<line x1="247.39" y1="197" x2="247.39" y2="200" stroke="#000" stroke-width="1.0" />
<line x1="249.35" y1="197" x2="249.35" y2="200" stroke="#000" stroke-width="1.0" />
<line x1="250.87" y1="197" x2="250.87" y2="200" stroke="#000" stroke-width="1.0" />
<line x1="252.12" y1="197" x2="252.12" y2="200" stroke="#000" stroke-width="1.0" />
<line x1="253.17" y1="197" x2="253.17" y2="200" stroke="#000" stroke-width="1.0" />
<line x1="254.08" y1="197" x2="254.08" y2="200" stroke="#000" stroke-width="1.0" />
<line x1="254.88" y1="197" x2="254.88" y2="200" stroke="#000" stroke-width="1.0" />
<line x1="255.6" y1="197" x2="255.6" y2="200.6" stroke="#000" stroke-width="1.0" />
<line x1="260.33" y1="197" x2="260.33" y2="200" stroke="#000" stroke-width="1.0" />
<line x1="263.09" y1="197" x2="263.09" y2="200" stroke="#000" stroke-width="1.0" />
<line x1="265.05" y1="197" x2="265.05" y2="200" stroke="#000" stroke-width="1.0" />
<line x1="266.57" y1="197" x2="266.57" y2="200" stroke="#000" stroke-width="1.0" />
<line x1="267.82" y1="197" x2="267.82" y2="200" stroke="#000" stroke-width="1.0" />
<line x1="268.87" y1="197" x2="268.87" y2="200" stroke="#000" stroke-width="1.0" />
<line x1="269.78" y1="197" x2="269.78" y2="200" stroke="#000" stroke-width="1.0" />
<line x1="270.58" y1="197" x2="270.58" y2="200" stroke="#000" stroke-width="1.0" />
<line x1="271.3" y1="197" x2="271.3" y2="200.6" stroke="#000" stroke-width="1.0" />
<line x1="276.03" y1="197" x2="276.03" y2="200" stroke="#000" stroke-width="1.0" />
<line x1="278.79" y1="197" x2="278.79" y2="200" stroke="#000" stroke-width="1.0" />
<line x1="280.75" y1="197" x2="280.75" y2="200" stroke="#000" stroke-width="1.0" />
<line x1="282.27" y1="197" x2="282.27" y2="200" stroke="#000" stroke-width="1.0" />
<line x1="283.52" y1="197" x2="283.52" y2="200" stroke="#000" stroke-width="1.0" />
<line x1="284.57" y1="197" x2="284.57" y2="200" stroke="#000" stroke-width="1.0" />
<line x1="285.48" y1="197" x2="285.48" y2="200" stroke="#000" stroke-width="1.0" />
<line x1="286.28" y1="197" x2="286.28" y2="200" stroke="#000" stroke-width="1.0" />
<line x1="287" y1="197" x2="287" y2="200.6" stroke="#000" stroke-width="1.0" />
<line x1="291.73" y1="197" x2="291.73" y2="200" stroke="#000" stroke-width="1.0" />
<line x1="294.49" y1="197" x2="294.49" y2="200" stroke="#000" stroke-width="1.0" />
<line x1="296.45" y1="197" x2="296.45" y2="200" stroke="#000" stroke-width="1.0" />
<line x1="297.97" y1="197" x2="297.97" y2="200" stroke="#000" stroke-width="1.0" />
<line x1="299.22" y1="197" x2="299.22" y2="200" stroke="#000" stroke-width="1.0" />
<line x1="300.27" y1="197" x2="300.27" y2="200" stroke="#000" stroke-width="1.0" />
<line x1="301.18" y1="197" x2="301.18" y2="200" stroke="#000" stroke-width="1.0" />
<line x1="301.98" y1="197" x2="301.98" y2="200" stroke="#000" stroke-width="1.0" />
<line x1="302.7" y1="197" x2="302.7" y2="199.8" stroke="#000" stroke-width="0.8" />
<rect x="224.2" y="118.3" width="78.5" height="78.7" fill="none" stroke="#000" stroke-width="1.3"/>
<path d="M224,194.25 L224.5,194.05 L225,193.84 L225.5,193.6 L226,193.35 L226.5,193.08 L227,192.79 L227.5,192.48 L228,192.14 L228.5,191.79 L229,191.41 L229.5,191.02 L230,190.61 L230.5,190.18 L231,189.74 L231.5,189.29 L232,188.82 L232.5,188.34 L233,187.86 L233.5,187.37 L234,186.87 L234.5,186.36 L235,185.82 L235.5,185.25 L236,184.64 L236.5,183.99 L237,183.3 L237.5,182.55 L238,181.74 L238.5,180.84 L239,179.78 L239.5,178.59 L240,177.28 L240.5,175.86 L241,174.36 L241.5,172.78 L242,171.16 L242.5,169.5 L243,167.82 L243.5,166.1 L244,164.27 L244.5,162.32 L245,160.29 L245.5,158.17 L246,156 L246.5,153.77 L247,151.48 L247.5,149.08 L248,146.59 L248.5,144.02 L249,141.38 L249.5,138.68 L250,135.68 L250.5,132.51 L251,129.48 L251.5,126.91 L252,124.72 L252.5,122.72 L253,121.84 L253.5,122.25 L254,123.34 L254.5,124.95 L255,127.6 L255.5,133.03 L256,139.19 L256.5,145.9 L257,153.4 L257.5,162.13 L258,170.28 L258.5,177.25 L259,182.6 L259.5,186.37 L260,189.43 L260.5,191.52 L261,192.8 L261.5,193.92 L262,194.88 L262.5,195.63 L263,196.14 L263.5,196.36 L264,196.37 L264.5,196.37 L265,196.37 L265.5,196.37 L266,196.37 L266.5,196.37 L267,196.37 L267.5,196.37 L268,196.37 L268.5,196.37 L269,196.37 L269.5,196.37 L270,196.37 L270.5,196.37 L271,196.37 L271.5,196.37 L272,196.37 L272.5,196.37 L273,196.37 L273.5,196.37 L274,196.37 L274.5,196.37 L275,196.37 L275.5,196.37 L276,196.37 L276.5,196.37 L277,196.37 L277.5,196.37 L278,196.37 L278.5,196.37 L279,196.37 L279.5,196.37 L280,196.37 L280.5,196.37 L281,196.37 L281.5,196.37 L282,196.37 L282.5,196.37 L283,196.37 L283.5,196.37 L284,196.37 L284.5,196.37 L285,196.37 L285.5,196.37 L286,196.37 L286.5,196.37 L287,196.37 L287.5,196.37 L288,196.37 L288.5,196.37 L289,196.37 L289.5,196.37 L290,196.37 L290.5,196.37 L291,196.37 L291.5,196.37 L292,196.37 L292.5,196.37 L293,196.37 L293.5,196.37 L294,196.37 L294.5,196.37 L295,196.37 L295.5,196.37 L296,196.37 L296.5,196.37 L297,196.37 L297.5,196.37 L298,196.37 L298.5,196.37 L299,196.37 L299.5,196.37 L300,196.37 L300.5,196.37 L301,196.37 L301.5,196.37 L302,196.37 L302.5,196.37 L303,196.37 L303.5,196.37 L304,196.37" fill="none" stroke="#0b2fb0" stroke-width="1.7" stroke-linejoin="round" clip-path="url(#cPatient8)"/>
<text x="263.45" y="115" font-size="8" text-anchor="middle" fill="#111" font-weight="bold" font-style="normal" stroke="#111" stroke-width="0.35">Patient-8</text>
<text x="300.8" y="125.6" font-size="7.8" text-anchor="end" fill="#2a2a2a" font-weight="normal" font-style="italic" stroke="none" textLength="14.12" lengthAdjust="spacingAndGlyphs">32.6</text>
<clipPath id="cPatient9"><rect x="324.8" y="118.3" width="78.9" height="79.7"/></clipPath>
<path d="M325,197 L325,196.37 L325.5,196.23 L326,196.08 L326.5,195.93 L327,195.77 L327.5,195.59 L328,195.41 L328.5,195.23 L329,195.04 L329.5,194.85 L330,194.65 L330.5,194.44 L331,194.22 L331.5,194 L332,193.76 L332.5,193.52 L333,193.26 L333.5,192.99 L334,192.71 L334.5,192.41 L335,192.1 L335.5,191.76 L336,191.4 L336.5,191.02 L337,190.6 L337.5,190.15 L338,189.67 L338.5,189.15 L339,188.58 L339.5,187.94 L340,187.22 L340.5,186.42 L341,185.55 L341.5,184.6 L342,183.58 L342.5,182.5 L343,181.34 L343.5,180.07 L344,178.59 L344.5,176.91 L345,175.06 L345.5,173.04 L346,170.54 L346.5,167.8 L347,165.3 L347.5,163.15 L348,161.13 L348.5,159.03 L349,156.67 L349.5,154.07 L350,151.25 L350.5,148.19 L351,144.54 L351.5,141.12 L352,138.44 L352.5,136.07 L353,133.85 L353.5,131.62 L354,129.41 L354.5,127.38 L355,125.7 L355.5,124.15 L356,122.81 L356.5,122.23 L357,122.53 L357.5,123.3 L358,124.41 L358.5,125.7 L359,127.65 L359.5,130.43 L360,133.41 L360.5,136.43 L361,139.73 L361.5,143.31 L362,147.22 L362.5,151.16 L363,155.42 L363.5,162.71 L364,169.84 L364.5,174.42 L365,178.16 L365.5,181.14 L366,183.47 L366.5,185.5 L367,187.31 L367.5,188.89 L368,190.22 L368.5,191.29 L369,192.11 L369.5,192.82 L370,193.45 L370.5,194.01 L371,194.5 L371.5,194.93 L372,195.31 L372.5,195.63 L373,195.9 L373.5,196.16 L374,196.41 L374.5,196.62 L375,196.79 L375.5,196.92 L376,197 L376,197 Z" fill="#c4001a" clip-path="url(#cPatient9)"/>
<path d="M325,194.64 L325.5,194.55 L326,194.42 L326.5,194.23 L327,193.99 L327.5,193.71 L328,193.4 L328.5,193.07 L329,192.73 L329.5,192.39 L330,192.03 L330.5,191.64 L331,191.24 L331.5,190.81 L332,190.35 L332.5,189.87 L333,189.36 L333.5,188.82 L334,188.24 L334.5,187.62 L335,186.95 L335.5,186.24 L336,185.49 L336.5,184.7 L337,183.86 L337.5,182.98 L338,182.06 L338.5,181.1 L339,180.07 L339.5,178.94 L340,177.72 L340.5,176.39 L341,174.98 L341.5,173.47 L342,171.85 L342.5,170.07 L343,168.06 L343.5,165.76 L344,162.89 L344.5,159.44 L345,155.69 L345.5,151.34 L346,147.3 L346.5,143.66 L347,140.56 L347.5,137.99 L348,135.68 L348.5,133.41 L349,130.96 L349.5,128.51 L350,126.38 L350.5,124.72 L351,123.14 L351.5,122.05 L352,121.91 L352.5,122.64 L353,123.98 L353.5,125.7 L354,129 L354.5,133.41 L355,137.59 L355.5,142.04 L356,146.82 L356.5,151.79 L357,158.16 L357.5,169.37 L358,175.96 L358.5,180.52 L359,183.99 L359.5,186.85 L360,188.82 L360.5,190.12 L361,191.23 L361.5,192.18 L362,192.98 L362.5,193.68 L363,194.3 L363.5,194.88 L364,195.45 L364.5,196.03 L365,196.52 L365.5,196.87 L366,197 L366.5,197 L367,197 L367.5,197 L368,197 L368.5,197 L369,197 L369.5,197 L370,197 L370.5,197 L371,197 L371.5,197 L372,197 L372.5,197 L373,197 L373.5,197 L374,197 L374.5,197 L375,197 L375.5,197 L376,197 L376.5,197 L377,197 L377.5,197 L378,197 L378.5,197 L379,197 L379.5,197 L380,197 L380.5,197 L381,197 L381.5,197 L382,197 L382.5,197 L383,197 L383.5,197 L384,197 L384.5,197 L385,197 L385.5,197 L386,197 L386.5,197 L387,197 L387.5,197 L388,197 L388.5,197 L389,197 L389.5,197 L390,197 L390.5,197 L391,197 L391.5,197 L392,197 L392.5,197 L393,197 L393.5,197 L394,197 L394.5,197 L395,197 L395.5,197 L396,197 L396.5,197 L397,197 L397.5,197 L398,197 L398.5,197 L399,197 L399.5,197 L400,197 L400.5,197 L401,197 L401.5,197 L402,197 L402.5,197 L403,197 L403.5,197 L404,197 L404.5,197 L405,197" fill="none" stroke="#0b2fb0" stroke-width="1.7" stroke-linejoin="round" clip-path="url(#cPatient9)"/>
<line x1="320.2" y1="197" x2="324.8" y2="197" stroke="#000" stroke-width="1.3" />
<line x1="321.8" y1="194" x2="324.8" y2="194" stroke="#000" stroke-width="1.1" />
<line x1="321.8" y1="190.99" x2="324.8" y2="190.99" stroke="#000" stroke-width="1.1" />
<line x1="321.8" y1="187.99" x2="324.8" y2="187.99" stroke="#000" stroke-width="1.1" />
<line x1="321.8" y1="184.98" x2="324.8" y2="184.98" stroke="#000" stroke-width="1.1" />
<line x1="320.2" y1="181.98" x2="324.8" y2="181.98" stroke="#000" stroke-width="1.3" />
<line x1="321.8" y1="178.98" x2="324.8" y2="178.98" stroke="#000" stroke-width="1.1" />
<line x1="321.8" y1="175.97" x2="324.8" y2="175.97" stroke="#000" stroke-width="1.1" />
<line x1="321.8" y1="172.97" x2="324.8" y2="172.97" stroke="#000" stroke-width="1.1" />
<line x1="321.8" y1="169.96" x2="324.8" y2="169.96" stroke="#000" stroke-width="1.1" />
<line x1="320.2" y1="166.96" x2="324.8" y2="166.96" stroke="#000" stroke-width="1.3" />
<line x1="321.8" y1="163.96" x2="324.8" y2="163.96" stroke="#000" stroke-width="1.1" />
<line x1="321.8" y1="160.95" x2="324.8" y2="160.95" stroke="#000" stroke-width="1.1" />
<line x1="321.8" y1="157.95" x2="324.8" y2="157.95" stroke="#000" stroke-width="1.1" />
<line x1="321.8" y1="154.94" x2="324.8" y2="154.94" stroke="#000" stroke-width="1.1" />
<line x1="320.2" y1="151.94" x2="324.8" y2="151.94" stroke="#000" stroke-width="1.3" />
<line x1="321.8" y1="148.94" x2="324.8" y2="148.94" stroke="#000" stroke-width="1.1" />
<line x1="321.8" y1="145.93" x2="324.8" y2="145.93" stroke="#000" stroke-width="1.1" />
<line x1="321.8" y1="142.93" x2="324.8" y2="142.93" stroke="#000" stroke-width="1.1" />
<line x1="321.8" y1="139.92" x2="324.8" y2="139.92" stroke="#000" stroke-width="1.1" />
<line x1="320.2" y1="136.92" x2="324.8" y2="136.92" stroke="#000" stroke-width="1.3" />
<line x1="321.8" y1="133.92" x2="324.8" y2="133.92" stroke="#000" stroke-width="1.1" />
<line x1="321.8" y1="130.91" x2="324.8" y2="130.91" stroke="#000" stroke-width="1.1" />
<line x1="321.8" y1="127.91" x2="324.8" y2="127.91" stroke="#000" stroke-width="1.1" />
<line x1="321.8" y1="124.9" x2="324.8" y2="124.9" stroke="#000" stroke-width="1.1" />
<line x1="320.2" y1="121.9" x2="324.8" y2="121.9" stroke="#000" stroke-width="1.3" />
<line x1="324.8" y1="197" x2="324.8" y2="200.6" stroke="#000" stroke-width="1.0" />
<line x1="329.55" y1="197" x2="329.55" y2="200" stroke="#000" stroke-width="1.0" />
<line x1="332.33" y1="197" x2="332.33" y2="200" stroke="#000" stroke-width="1.0" />
<line x1="334.3" y1="197" x2="334.3" y2="200" stroke="#000" stroke-width="1.0" />
<line x1="335.83" y1="197" x2="335.83" y2="200" stroke="#000" stroke-width="1.0" />
<line x1="337.08" y1="197" x2="337.08" y2="200" stroke="#000" stroke-width="1.0" />
<line x1="338.14" y1="197" x2="338.14" y2="200" stroke="#000" stroke-width="1.0" />
<line x1="339.05" y1="197" x2="339.05" y2="200" stroke="#000" stroke-width="1.0" />
<line x1="339.86" y1="197" x2="339.86" y2="200" stroke="#000" stroke-width="1.0" />
<line x1="340.58" y1="197" x2="340.58" y2="200.6" stroke="#000" stroke-width="1.0" />
<line x1="345.33" y1="197" x2="345.33" y2="200" stroke="#000" stroke-width="1.0" />
<line x1="348.11" y1="197" x2="348.11" y2="200" stroke="#000" stroke-width="1.0" />
<line x1="350.08" y1="197" x2="350.08" y2="200" stroke="#000" stroke-width="1.0" />
<line x1="351.61" y1="197" x2="351.61" y2="200" stroke="#000" stroke-width="1.0" />
<line x1="352.86" y1="197" x2="352.86" y2="200" stroke="#000" stroke-width="1.0" />
<line x1="353.92" y1="197" x2="353.92" y2="200" stroke="#000" stroke-width="1.0" />
<line x1="354.83" y1="197" x2="354.83" y2="200" stroke="#000" stroke-width="1.0" />
<line x1="355.64" y1="197" x2="355.64" y2="200" stroke="#000" stroke-width="1.0" />
<line x1="356.36" y1="197" x2="356.36" y2="200.6" stroke="#000" stroke-width="1.0" />
<line x1="361.11" y1="197" x2="361.11" y2="200" stroke="#000" stroke-width="1.0" />
<line x1="363.89" y1="197" x2="363.89" y2="200" stroke="#000" stroke-width="1.0" />
<line x1="365.86" y1="197" x2="365.86" y2="200" stroke="#000" stroke-width="1.0" />
<line x1="367.39" y1="197" x2="367.39" y2="200" stroke="#000" stroke-width="1.0" />
<line x1="368.64" y1="197" x2="368.64" y2="200" stroke="#000" stroke-width="1.0" />
<line x1="369.7" y1="197" x2="369.7" y2="200" stroke="#000" stroke-width="1.0" />
<line x1="370.61" y1="197" x2="370.61" y2="200" stroke="#000" stroke-width="1.0" />
<line x1="371.42" y1="197" x2="371.42" y2="200" stroke="#000" stroke-width="1.0" />
<line x1="372.14" y1="197" x2="372.14" y2="200.6" stroke="#000" stroke-width="1.0" />
<line x1="376.89" y1="197" x2="376.89" y2="200" stroke="#000" stroke-width="1.0" />
<line x1="379.67" y1="197" x2="379.67" y2="200" stroke="#000" stroke-width="1.0" />
<line x1="381.64" y1="197" x2="381.64" y2="200" stroke="#000" stroke-width="1.0" />
<line x1="383.17" y1="197" x2="383.17" y2="200" stroke="#000" stroke-width="1.0" />
<line x1="384.42" y1="197" x2="384.42" y2="200" stroke="#000" stroke-width="1.0" />
<line x1="385.48" y1="197" x2="385.48" y2="200" stroke="#000" stroke-width="1.0" />
<line x1="386.39" y1="197" x2="386.39" y2="200" stroke="#000" stroke-width="1.0" />
<line x1="387.2" y1="197" x2="387.2" y2="200" stroke="#000" stroke-width="1.0" />
<line x1="387.92" y1="197" x2="387.92" y2="200.6" stroke="#000" stroke-width="1.0" />
<line x1="392.67" y1="197" x2="392.67" y2="200" stroke="#000" stroke-width="1.0" />
<line x1="395.45" y1="197" x2="395.45" y2="200" stroke="#000" stroke-width="1.0" />
<line x1="397.42" y1="197" x2="397.42" y2="200" stroke="#000" stroke-width="1.0" />
<line x1="398.95" y1="197" x2="398.95" y2="200" stroke="#000" stroke-width="1.0" />
<line x1="400.2" y1="197" x2="400.2" y2="200" stroke="#000" stroke-width="1.0" />
<line x1="401.26" y1="197" x2="401.26" y2="200" stroke="#000" stroke-width="1.0" />
<line x1="402.17" y1="197" x2="402.17" y2="200" stroke="#000" stroke-width="1.0" />
<line x1="402.98" y1="197" x2="402.98" y2="200" stroke="#000" stroke-width="1.0" />
<line x1="403.7" y1="197" x2="403.7" y2="199.8" stroke="#000" stroke-width="0.8" />
<rect x="324.8" y="118.3" width="78.9" height="78.7" fill="none" stroke="#000" stroke-width="1.3"/>
<text x="364.25" y="115" font-size="8" text-anchor="middle" fill="#111" font-weight="bold" font-style="normal" stroke="#111" stroke-width="0.35">Patient-9</text>
<text x="401.8" y="125.6" font-size="7.8" text-anchor="end" fill="#2a2a2a" font-weight="normal" font-style="normal" stroke="none" textLength="10.08" lengthAdjust="spacingAndGlyphs">3.0</text>
<clipPath id="cPatient10"><rect x="426.9" y="118.3" width="78.6" height="79.7"/></clipPath>
<path d="M428.3,197 L428.3,196.21 L428.8,195.92 L429.3,195.63 L429.8,195.34 L430.3,195.06 L430.8,194.79 L431.3,194.53 L431.8,194.27 L432.3,194.03 L432.8,193.81 L433.3,193.59 L433.8,193.37 L434.3,193.16 L434.8,192.94 L435.3,192.72 L435.8,192.48 L436.3,192.23 L436.8,191.96 L437.3,191.67 L437.8,191.38 L438.3,191.08 L438.8,190.76 L439.3,190.43 L439.8,190.08 L440.3,189.71 L440.8,189.32 L441.3,188.91 L441.8,188.47 L442.3,188 L442.8,187.49 L443.3,186.96 L443.8,186.39 L444.3,185.78 L444.8,185.14 L445.3,184.47 L445.8,183.76 L446.3,183.01 L446.8,182.23 L447.3,181.41 L447.8,180.52 L448.3,179.55 L448.8,178.5 L449.3,177.38 L449.8,176.19 L450.3,174.94 L450.8,173.62 L451.3,172.25 L451.8,170.82 L452.3,169.33 L452.8,167.8 L453.3,166.16 L453.8,164.3 L454.3,162.28 L454.8,160.16 L455.3,157.99 L455.8,155.82 L456.3,153.73 L456.8,151.72 L457.3,149.77 L457.8,147.82 L458.3,145.87 L458.8,143.87 L459.3,141.82 L459.8,139.68 L460.3,137.31 L460.8,134.61 L461.3,131.85 L461.8,129.27 L462.3,127.15 L462.8,125.56 L463.3,124.05 L463.8,122.85 L464.3,122.25 L464.8,122.4 L465.3,123.02 L465.8,124.02 L466.3,125.31 L466.8,126.83 L467.3,129.71 L467.8,133.84 L468.3,138.36 L468.8,142.97 L469.3,148.12 L469.8,153.32 L470.3,158.6 L470.8,163.83 L471.3,168.3 L471.8,172.12 L472.3,175.59 L472.8,178.73 L473.3,181.57 L473.8,184.21 L474.3,186.68 L474.8,188.91 L475.3,190.82 L475.8,192.41 L476.3,193.78 L476.8,194.86 L477.3,195.67 L477.8,196.37 L478.3,196.87 L478.5,197 L478.5,197 Z" fill="#c4001a" clip-path="url(#cPatient10)"/>
<line x1="422.3" y1="197" x2="426.9" y2="197" stroke="#000" stroke-width="1.3" />
<line x1="423.9" y1="194" x2="426.9" y2="194" stroke="#000" stroke-width="1.1" />
<line x1="423.9" y1="190.99" x2="426.9" y2="190.99" stroke="#000" stroke-width="1.1" />
<line x1="423.9" y1="187.99" x2="426.9" y2="187.99" stroke="#000" stroke-width="1.1" />
<line x1="423.9" y1="184.98" x2="426.9" y2="184.98" stroke="#000" stroke-width="1.1" />
<line x1="422.3" y1="181.98" x2="426.9" y2="181.98" stroke="#000" stroke-width="1.3" />
<line x1="423.9" y1="178.98" x2="426.9" y2="178.98" stroke="#000" stroke-width="1.1" />
<line x1="423.9" y1="175.97" x2="426.9" y2="175.97" stroke="#000" stroke-width="1.1" />
<line x1="423.9" y1="172.97" x2="426.9" y2="172.97" stroke="#000" stroke-width="1.1" />
<line x1="423.9" y1="169.96" x2="426.9" y2="169.96" stroke="#000" stroke-width="1.1" />
<line x1="422.3" y1="166.96" x2="426.9" y2="166.96" stroke="#000" stroke-width="1.3" />
<line x1="423.9" y1="163.96" x2="426.9" y2="163.96" stroke="#000" stroke-width="1.1" />
<line x1="423.9" y1="160.95" x2="426.9" y2="160.95" stroke="#000" stroke-width="1.1" />
<line x1="423.9" y1="157.95" x2="426.9" y2="157.95" stroke="#000" stroke-width="1.1" />
<line x1="423.9" y1="154.94" x2="426.9" y2="154.94" stroke="#000" stroke-width="1.1" />
<line x1="422.3" y1="151.94" x2="426.9" y2="151.94" stroke="#000" stroke-width="1.3" />
<line x1="423.9" y1="148.94" x2="426.9" y2="148.94" stroke="#000" stroke-width="1.1" />
<line x1="423.9" y1="145.93" x2="426.9" y2="145.93" stroke="#000" stroke-width="1.1" />
<line x1="423.9" y1="142.93" x2="426.9" y2="142.93" stroke="#000" stroke-width="1.1" />
<line x1="423.9" y1="139.92" x2="426.9" y2="139.92" stroke="#000" stroke-width="1.1" />
<line x1="422.3" y1="136.92" x2="426.9" y2="136.92" stroke="#000" stroke-width="1.3" />
<line x1="423.9" y1="133.92" x2="426.9" y2="133.92" stroke="#000" stroke-width="1.1" />
<line x1="423.9" y1="130.91" x2="426.9" y2="130.91" stroke="#000" stroke-width="1.1" />
<line x1="423.9" y1="127.91" x2="426.9" y2="127.91" stroke="#000" stroke-width="1.1" />
<line x1="423.9" y1="124.9" x2="426.9" y2="124.9" stroke="#000" stroke-width="1.1" />
<line x1="422.3" y1="121.9" x2="426.9" y2="121.9" stroke="#000" stroke-width="1.3" />
<line x1="426.9" y1="197" x2="426.9" y2="200.6" stroke="#000" stroke-width="1.0" />
<line x1="431.63" y1="197" x2="431.63" y2="200" stroke="#000" stroke-width="1.0" />
<line x1="434.4" y1="197" x2="434.4" y2="200" stroke="#000" stroke-width="1.0" />
<line x1="436.36" y1="197" x2="436.36" y2="200" stroke="#000" stroke-width="1.0" />
<line x1="437.89" y1="197" x2="437.89" y2="200" stroke="#000" stroke-width="1.0" />
<line x1="439.13" y1="197" x2="439.13" y2="200" stroke="#000" stroke-width="1.0" />
<line x1="440.18" y1="197" x2="440.18" y2="200" stroke="#000" stroke-width="1.0" />
<line x1="441.1" y1="197" x2="441.1" y2="200" stroke="#000" stroke-width="1.0" />
<line x1="441.9" y1="197" x2="441.9" y2="200" stroke="#000" stroke-width="1.0" />
<line x1="442.62" y1="197" x2="442.62" y2="200.6" stroke="#000" stroke-width="1.0" />
<line x1="447.35" y1="197" x2="447.35" y2="200" stroke="#000" stroke-width="1.0" />
<line x1="450.12" y1="197" x2="450.12" y2="200" stroke="#000" stroke-width="1.0" />
<line x1="452.08" y1="197" x2="452.08" y2="200" stroke="#000" stroke-width="1.0" />
<line x1="453.61" y1="197" x2="453.61" y2="200" stroke="#000" stroke-width="1.0" />
<line x1="454.85" y1="197" x2="454.85" y2="200" stroke="#000" stroke-width="1.0" />
<line x1="455.9" y1="197" x2="455.9" y2="200" stroke="#000" stroke-width="1.0" />
<line x1="456.82" y1="197" x2="456.82" y2="200" stroke="#000" stroke-width="1.0" />
<line x1="457.62" y1="197" x2="457.62" y2="200" stroke="#000" stroke-width="1.0" />
<line x1="458.34" y1="197" x2="458.34" y2="200.6" stroke="#000" stroke-width="1.0" />
<line x1="463.07" y1="197" x2="463.07" y2="200" stroke="#000" stroke-width="1.0" />
<line x1="465.84" y1="197" x2="465.84" y2="200" stroke="#000" stroke-width="1.0" />
<line x1="467.8" y1="197" x2="467.8" y2="200" stroke="#000" stroke-width="1.0" />
<line x1="469.33" y1="197" x2="469.33" y2="200" stroke="#000" stroke-width="1.0" />
<line x1="470.57" y1="197" x2="470.57" y2="200" stroke="#000" stroke-width="1.0" />
<line x1="471.62" y1="197" x2="471.62" y2="200" stroke="#000" stroke-width="1.0" />
<line x1="472.54" y1="197" x2="472.54" y2="200" stroke="#000" stroke-width="1.0" />
<line x1="473.34" y1="197" x2="473.34" y2="200" stroke="#000" stroke-width="1.0" />
<line x1="474.06" y1="197" x2="474.06" y2="200.6" stroke="#000" stroke-width="1.0" />
<line x1="478.79" y1="197" x2="478.79" y2="200" stroke="#000" stroke-width="1.0" />
<line x1="481.56" y1="197" x2="481.56" y2="200" stroke="#000" stroke-width="1.0" />
<line x1="483.52" y1="197" x2="483.52" y2="200" stroke="#000" stroke-width="1.0" />
<line x1="485.05" y1="197" x2="485.05" y2="200" stroke="#000" stroke-width="1.0" />
<line x1="486.29" y1="197" x2="486.29" y2="200" stroke="#000" stroke-width="1.0" />
<line x1="487.34" y1="197" x2="487.34" y2="200" stroke="#000" stroke-width="1.0" />
<line x1="488.26" y1="197" x2="488.26" y2="200" stroke="#000" stroke-width="1.0" />
<line x1="489.06" y1="197" x2="489.06" y2="200" stroke="#000" stroke-width="1.0" />
<line x1="489.78" y1="197" x2="489.78" y2="200.6" stroke="#000" stroke-width="1.0" />
<line x1="494.51" y1="197" x2="494.51" y2="200" stroke="#000" stroke-width="1.0" />
<line x1="497.28" y1="197" x2="497.28" y2="200" stroke="#000" stroke-width="1.0" />
<line x1="499.24" y1="197" x2="499.24" y2="200" stroke="#000" stroke-width="1.0" />
<line x1="500.77" y1="197" x2="500.77" y2="200" stroke="#000" stroke-width="1.0" />
<line x1="502.01" y1="197" x2="502.01" y2="200" stroke="#000" stroke-width="1.0" />
<line x1="503.06" y1="197" x2="503.06" y2="200" stroke="#000" stroke-width="1.0" />
<line x1="503.98" y1="197" x2="503.98" y2="200" stroke="#000" stroke-width="1.0" />
<line x1="504.78" y1="197" x2="504.78" y2="200" stroke="#000" stroke-width="1.0" />
<line x1="505.5" y1="197" x2="505.5" y2="199.8" stroke="#000" stroke-width="0.8" />
<rect x="426.9" y="118.3" width="78.6" height="78.7" fill="none" stroke="#000" stroke-width="1.3"/>
<path d="M426,191.88 L426.5,191.81 L427,191.65 L427.5,191.45 L428,191.14 L428.5,190.71 L429,190.17 L429.5,189.57 L430,188.91 L430.5,188.23 L431,187.56 L431.5,186.86 L432,186.12 L432.5,185.32 L433,184.47 L433.5,183.57 L434,182.6 L434.5,181.57 L435,180.48 L435.5,179.32 L436,178.08 L436.5,176.76 L437,175.36 L437.5,173.88 L438,172.32 L438.5,170.67 L439,168.94 L439.5,167.11 L440,165.01 L440.5,162.63 L441,160.08 L441.5,157.45 L442,154.84 L442.5,152.32 L443,149.8 L443.5,147.24 L444,144.69 L444.5,142.17 L445,139.71 L445.5,137.31 L446,134.89 L446.5,132.51 L447,130.21 L447.5,128.07 L448,126.09 L448.5,123.92 L449,122.2 L449.5,121.9 L450,122.48 L450.5,123.59 L451,125.09 L451.5,126.89 L452,130.13 L452.5,134.85 L453,140.48 L453.5,148.62 L454,155.95 L454.5,161.95 L455,167.49 L455.5,173.21 L456,178.54 L456.5,182.12 L457,184.63 L457.5,186.78 L458,188.58 L458.5,190.03 L459,191.14 L459.5,191.97 L460,192.74 L460.5,193.46 L461,194.12 L461.5,194.72 L462,195.24 L462.5,195.68 L463,196.02 L463.5,196.25 L464,196.36 L464.5,196.37 L465,196.37 L465.5,196.37 L466,196.37 L466.5,196.37 L467,196.37 L467.5,196.37 L468,196.37 L468.5,196.37 L469,196.37 L469.5,196.37 L470,196.37 L470.5,196.37 L471,196.37 L471.5,196.37 L472,196.37 L472.5,196.37 L473,196.37 L473.5,196.37 L474,196.37 L474.5,196.37 L475,196.37 L475.5,196.37 L476,196.37 L476.5,196.37 L477,196.37 L477.5,196.37 L478,196.37 L478.5,196.37 L479,196.37 L479.5,196.37 L480,196.37 L480.5,196.37 L481,196.37 L481.5,196.37 L482,196.37 L482.5,196.37 L483,196.37 L483.5,196.37 L484,196.37 L484.5,196.37 L485,196.37 L485.5,196.37 L486,196.37 L486.5,196.37 L487,196.37 L487.5,196.37 L488,196.37 L488.5,196.37 L489,196.37 L489.5,196.37 L490,196.37 L490.5,196.37 L491,196.37 L491.5,196.37 L492,196.37 L492.5,196.37 L493,196.37 L493.5,196.37 L494,196.37 L494.5,196.37 L495,196.37 L495.5,196.37 L496,196.37 L496.5,196.37 L497,196.37 L497.5,196.37 L498,196.37 L498.5,196.37 L499,196.37 L499.5,196.37 L500,196.37 L500.5,196.37 L501,196.37 L501.5,196.37 L502,196.37 L502.5,196.37 L503,196.37 L503.5,196.37 L504,196.37 L504.5,196.37 L505,196.37 L505.5,196.37 L506,196.37 L506.5,196.37 L507,196.37" fill="none" stroke="#0b2fb0" stroke-width="1.7" stroke-linejoin="round" clip-path="url(#cPatient10)"/>
<text x="466.2" y="115" font-size="8" text-anchor="middle" fill="#111" font-weight="bold" font-style="normal" stroke="#111" stroke-width="0.35">Patient-10</text>
<text x="503.6" y="125.6" font-size="7.8" text-anchor="end" fill="#2a2a2a" font-weight="normal" font-style="normal" stroke="none" textLength="14.12" lengthAdjust="spacingAndGlyphs">15.5</text>
</g>
<line x1="30" y1="205.6" x2="51" y2="205.6" stroke="#000" stroke-width="1.4" />
<path d="M49.5,203.4 L56,205.6 L49.5,207.8 Z" fill="#000"/>
<text x="58.3" y="208.4" font-size="8" text-anchor="start" fill="#333" font-weight="normal" font-style="normal"  stroke="#333" stroke-width="0.12">Siglec-6</text>
<text x="7" y="16.2" font-size="11" text-anchor="start" fill="#000" font-weight="bold" font-style="normal" >A</text>
<text x="6.7" y="224.1" font-size="11" text-anchor="start" fill="#000" font-weight="bold" font-style="normal" >B</text>
<rect x="52.3" y="347.3" width="6.5" height="1.2" fill="#e07070"/>
<rect x="60.2" y="290.58" width="6.7" height="57.92" fill="#0a2ea6"/>
<rect x="67.8" y="229.94" width="6.4" height="118.56" fill="#3cff00"/>
<line x1="63.5" y1="348.5" x2="63.5" y2="352" stroke="#000" stroke-width="1" />
<text x="63.5" y="361" font-size="8.8" text-anchor="middle" fill="#444" font-weight="normal" font-style="normal"  textLength="9.79" lengthAdjust="spacingAndGlyphs" stroke="#444" stroke-width="0.12">P1</text>
<rect x="78.5" y="347.3" width="6.5" height="1.2" fill="#e07070"/>
<rect x="86.4" y="259.21" width="6.7" height="89.29" fill="#0a2ea6"/>
<rect x="94" y="231.05" width="6.4" height="117.45" fill="#3cff00"/>
<line x1="89.7" y1="348.5" x2="89.7" y2="352" stroke="#000" stroke-width="1" />
<text x="89.7" y="361" font-size="8.8" text-anchor="middle" fill="#444" font-weight="normal" font-style="normal"  textLength="9.79" lengthAdjust="spacingAndGlyphs" stroke="#444" stroke-width="0.12">P2</text>
<rect x="104.7" y="347.3" width="6.5" height="1.2" fill="#e07070"/>
<rect x="112.6" y="310.96" width="6.7" height="37.54" fill="#0a2ea6"/>
<rect x="120.2" y="233.03" width="6.4" height="115.47" fill="#3cff00"/>
<line x1="115.9" y1="348.5" x2="115.9" y2="352" stroke="#000" stroke-width="1" />
<text x="115.9" y="361" font-size="8.8" text-anchor="middle" fill="#444" font-weight="normal" font-style="normal"  textLength="9.79" lengthAdjust="spacingAndGlyphs" stroke="#444" stroke-width="0.12">P3</text>
<rect x="130.9" y="347.3" width="6.5" height="1.2" fill="#e07070"/>
<rect x="138.8" y="340.35" width="6.7" height="8.15" fill="#0a2ea6"/>
<rect x="146.4" y="230.8" width="6.4" height="117.7" fill="#3cff00"/>
<line x1="142.1" y1="348.5" x2="142.1" y2="352" stroke="#000" stroke-width="1" />
<text x="142.1" y="361" font-size="8.8" text-anchor="middle" fill="#444" font-weight="normal" font-style="normal"  textLength="9.79" lengthAdjust="spacingAndGlyphs" stroke="#444" stroke-width="0.12">P4</text>
<rect x="157.1" y="347.3" width="6.5" height="1.2" fill="#e07070"/>
<rect x="172.6" y="229.94" width="6.4" height="118.56" fill="#3cff00"/>
<line x1="168.3" y1="348.5" x2="168.3" y2="352" stroke="#000" stroke-width="1" />
<text x="168.3" y="361" font-size="8.8" text-anchor="middle" fill="#444" font-weight="normal" font-style="normal"  textLength="9.79" lengthAdjust="spacingAndGlyphs" stroke="#444" stroke-width="0.12">P5</text>
<rect x="183.3" y="347.3" width="6.5" height="1.2" fill="#e07070"/>
<rect x="191.2" y="253.78" width="6.7" height="94.72" fill="#0a2ea6"/>
<rect x="198.8" y="232.04" width="6.4" height="116.46" fill="#3cff00"/>
<line x1="194.5" y1="348.5" x2="194.5" y2="352" stroke="#000" stroke-width="1" />
<text x="194.5" y="361" font-size="8.8" text-anchor="middle" fill="#444" font-weight="normal" font-style="normal"  textLength="9.79" lengthAdjust="spacingAndGlyphs" stroke="#444" stroke-width="0.12">P6</text>
<rect x="209.5" y="347.3" width="6.5" height="1.2" fill="#e07070"/>
<rect x="217.4" y="288.73" width="6.7" height="59.77" fill="#0a2ea6"/>
<rect x="225" y="235" width="6.4" height="113.5" fill="#3cff00"/>
<line x1="220.7" y1="348.5" x2="220.7" y2="352" stroke="#000" stroke-width="1" />
<text x="220.7" y="361" font-size="8.8" text-anchor="middle" fill="#444" font-weight="normal" font-style="normal"  textLength="9.79" lengthAdjust="spacingAndGlyphs" stroke="#444" stroke-width="0.12">P7</text>
<rect x="235.7" y="347.3" width="6.5" height="1.2" fill="#e07070"/>
<rect x="243.6" y="262.54" width="6.7" height="85.96" fill="#0a2ea6"/>
<rect x="251.2" y="226.73" width="6.4" height="121.77" fill="#3cff00"/>
<line x1="246.9" y1="348.5" x2="246.9" y2="352" stroke="#000" stroke-width="1" />
<text x="246.9" y="361" font-size="8.8" text-anchor="middle" fill="#444" font-weight="normal" font-style="normal"  textLength="9.79" lengthAdjust="spacingAndGlyphs" stroke="#444" stroke-width="0.12">P8</text>
<rect x="261.9" y="347.3" width="6.5" height="1.2" fill="#e07070"/>
<rect x="269.8" y="278.72" width="6.7" height="69.78" fill="#0a2ea6"/>
<rect x="277.4" y="233.27" width="6.4" height="115.23" fill="#3cff00"/>
<line x1="273.1" y1="348.5" x2="273.1" y2="352" stroke="#000" stroke-width="1" />
<text x="273.1" y="361" font-size="8.8" text-anchor="middle" fill="#444" font-weight="normal" font-style="normal"  textLength="9.79" lengthAdjust="spacingAndGlyphs" stroke="#444" stroke-width="0.12">P9</text>
<rect x="288.1" y="347.3" width="6.5" height="1.2" fill="#e07070"/>
<rect x="296" y="296.88" width="6.7" height="51.62" fill="#0a2ea6"/>
<rect x="303.6" y="260.94" width="6.4" height="87.56" fill="#3cff00"/>
<line x1="299.3" y1="348.5" x2="299.3" y2="352" stroke="#000" stroke-width="1" />
<text x="299.3" y="361" font-size="8.8" text-anchor="middle" fill="#444" font-weight="normal" font-style="normal"  textLength="14.23" lengthAdjust="spacingAndGlyphs" stroke="#444" stroke-width="0.12">P10</text>
<line x1="50.2" y1="224.6" x2="50.2" y2="349.1" stroke="#000" stroke-width="1.3" />
<line x1="46.6" y1="348.5" x2="313" y2="348.5" stroke="#000" stroke-width="1.3" />
<line x1="46.8" y1="348.5" x2="50.2" y2="348.5" stroke="#000" stroke-width="1.1" />
<text x="45" y="351.3" font-size="8.96" text-anchor="end" fill="#333" font-weight="normal" font-style="normal"  textLength="4.45" lengthAdjust="spacingAndGlyphs" stroke="#333" stroke-width="0.12">0</text>
<line x1="46.8" y1="323.8" x2="50.2" y2="323.8" stroke="#000" stroke-width="1.1" />
<text x="45" y="326.6" font-size="8.96" text-anchor="end" fill="#333" font-weight="normal" font-style="normal"  textLength="8.9" lengthAdjust="spacingAndGlyphs" stroke="#333" stroke-width="0.12">20</text>
<line x1="46.8" y1="299.1" x2="50.2" y2="299.1" stroke="#000" stroke-width="1.1" />
<text x="45" y="301.9" font-size="8.96" text-anchor="end" fill="#333" font-weight="normal" font-style="normal"  textLength="8.9" lengthAdjust="spacingAndGlyphs" stroke="#333" stroke-width="0.12">40</text>
<line x1="46.8" y1="274.4" x2="50.2" y2="274.4" stroke="#000" stroke-width="1.1" />
<text x="45" y="277.2" font-size="8.96" text-anchor="end" fill="#333" font-weight="normal" font-style="normal"  textLength="8.9" lengthAdjust="spacingAndGlyphs" stroke="#333" stroke-width="0.12">60</text>
<line x1="46.8" y1="249.7" x2="50.2" y2="249.7" stroke="#000" stroke-width="1.1" />
<text x="45" y="252.5" font-size="8.96" text-anchor="end" fill="#333" font-weight="normal" font-style="normal"  textLength="8.9" lengthAdjust="spacingAndGlyphs" stroke="#333" stroke-width="0.12">80</text>
<line x1="46.8" y1="225" x2="50.2" y2="225" stroke="#000" stroke-width="1.1" />
<text x="45" y="227.8" font-size="8.96" text-anchor="end" fill="#333" font-weight="normal" font-style="normal"  textLength="13.35" lengthAdjust="spacingAndGlyphs" stroke="#333" stroke-width="0.12">100</text>
<text x="0" y="0" font-size="8.6" text-anchor="middle" fill="#333" font-weight="normal" font-style="normal" transform="translate(25.3,287.3) rotate(-90)" textLength="54.3" lengthAdjust="spacingAndGlyphs" stroke="#333" stroke-width="0.12">Specific lysis (%)</text>
<rect x="53.8" y="370.8" width="18" height="5.5" fill="#c8001a"/>
<text x="75" y="376" font-size="8" text-anchor="start" fill="#333" font-weight="normal" font-style="normal"  textLength="38.6" lengthAdjust="spacingAndGlyphs" stroke="#333" stroke-width="0.12">UTD T-cells</text>
<rect x="143.8" y="370.8" width="18" height="5.5" fill="#0a2ea6"/>
<text x="164.8" y="376" font-size="8" text-anchor="start" fill="#333" font-weight="normal" font-style="normal"  textLength="43.7" lengthAdjust="spacingAndGlyphs" stroke="#333" stroke-width="0.12">Siglec-6_BBz</text>
<rect x="242.1" y="370.8" width="18" height="5.5" fill="#3cff00"/>
<text x="263.1" y="376" font-size="8" text-anchor="start" fill="#333" font-weight="normal" font-style="normal"  textLength="35.6" lengthAdjust="spacingAndGlyphs" stroke="#333" stroke-width="0.12">CD19_BBz</text>
<text x="320.1" y="224.8" font-size="11" text-anchor="start" fill="#000" font-weight="bold" font-style="normal" >C</text>
<line x1="356.8" y1="234.4" x2="356.8" y2="351.9" stroke="#000" stroke-width="1.3" />
<line x1="356.2" y1="351.3" x2="504" y2="351.3" stroke="#000" stroke-width="1.3" />
<line x1="353.6" y1="351.3" x2="356.8" y2="351.3" stroke="#000" stroke-width="1.1" />
<text x="351.3" y="354.1" font-size="8.96" text-anchor="end" fill="#333" font-weight="normal" font-style="normal"  textLength="4.45" lengthAdjust="spacingAndGlyphs" stroke="#333" stroke-width="0.12">0</text>
<line x1="353.6" y1="328.04" x2="356.8" y2="328.04" stroke="#000" stroke-width="1.1" />
<text x="351.3" y="330.84" font-size="8.96" text-anchor="end" fill="#333" font-weight="normal" font-style="normal"  textLength="8.9" lengthAdjust="spacingAndGlyphs" stroke="#333" stroke-width="0.12">20</text>
<line x1="353.6" y1="304.78" x2="356.8" y2="304.78" stroke="#000" stroke-width="1.1" />
<text x="351.3" y="307.58" font-size="8.96" text-anchor="end" fill="#333" font-weight="normal" font-style="normal"  textLength="8.9" lengthAdjust="spacingAndGlyphs" stroke="#333" stroke-width="0.12">40</text>
<line x1="353.6" y1="281.52" x2="356.8" y2="281.52" stroke="#000" stroke-width="1.1" />
<text x="351.3" y="284.32" font-size="8.96" text-anchor="end" fill="#333" font-weight="normal" font-style="normal"  textLength="8.9" lengthAdjust="spacingAndGlyphs" stroke="#333" stroke-width="0.12">60</text>
<line x1="353.6" y1="258.26" x2="356.8" y2="258.26" stroke="#000" stroke-width="1.1" />
<text x="351.3" y="261.06" font-size="8.96" text-anchor="end" fill="#333" font-weight="normal" font-style="normal"  textLength="8.9" lengthAdjust="spacingAndGlyphs" stroke="#333" stroke-width="0.12">80</text>
<line x1="353.6" y1="235" x2="356.8" y2="235" stroke="#000" stroke-width="1.1" />
<text x="351.3" y="237.8" font-size="8.96" text-anchor="end" fill="#333" font-weight="normal" font-style="normal"  textLength="13.35" lengthAdjust="spacingAndGlyphs" stroke="#333" stroke-width="0.12">100</text>
<line x1="390.35" y1="351.3" x2="390.35" y2="354.5" stroke="#000" stroke-width="1.1" />
<text x="390.35" y="364" font-size="8.96" text-anchor="middle" fill="#333" font-weight="normal" font-style="normal"  textLength="8.9" lengthAdjust="spacingAndGlyphs" stroke="#333" stroke-width="0.12">10</text>
<line x1="428.1" y1="351.3" x2="428.1" y2="354.5" stroke="#000" stroke-width="1.1" />
<text x="428.1" y="364" font-size="8.96" text-anchor="middle" fill="#333" font-weight="normal" font-style="normal"  textLength="8.9" lengthAdjust="spacingAndGlyphs" stroke="#333" stroke-width="0.12">20</text>
<line x1="465.85" y1="351.3" x2="465.85" y2="354.5" stroke="#000" stroke-width="1.1" />
<text x="465.85" y="364" font-size="8.96" text-anchor="middle" fill="#333" font-weight="normal" font-style="normal"  textLength="8.9" lengthAdjust="spacingAndGlyphs" stroke="#333" stroke-width="0.12">30</text>
<line x1="503.6" y1="351.3" x2="503.6" y2="354.5" stroke="#000" stroke-width="1.1" />
<text x="503.6" y="364" font-size="8.96" text-anchor="middle" fill="#333" font-weight="normal" font-style="normal"  textLength="8.9" lengthAdjust="spacingAndGlyphs" stroke="#333" stroke-width="0.12">40</text>
<text x="429.6" y="377.2" font-size="8.6" text-anchor="middle" fill="#333" font-weight="normal" font-style="normal"  textLength="51.9" lengthAdjust="spacingAndGlyphs" stroke="#333" stroke-width="0.12">Siglec-6 (NMFI)</text>
<text x="0" y="0" font-size="8.6" text-anchor="middle" fill="#333" font-weight="normal" font-style="normal" transform="translate(335.2,293.1) rotate(-90)" textLength="55.6" lengthAdjust="spacingAndGlyphs" stroke="#333" stroke-width="0.12">Specific lysis (%)</text>
<line x1="357" y1="318.3" x2="501" y2="254.7" stroke="#c8001a" stroke-width="1.6" />
<path d="M361.5,282.4 L368.3,282.4 L364.9,288.4 Z" fill="#c8001a"/>
<text x="369.7" y="288.2" font-size="8.8" text-anchor="start" fill="#333" font-weight="normal" font-style="normal"  textLength="4.45" lengthAdjust="spacingAndGlyphs" stroke="#333" stroke-width="0.12">9</text>
<path d="M359.4,293.2 L366.2,293.2 L362.8,299.2 Z" fill="#c8001a"/>
<text x="367.6" y="299" font-size="8.8" text-anchor="start" fill="#333" font-weight="normal" font-style="normal"  textLength="4.45" lengthAdjust="spacingAndGlyphs" stroke="#333" stroke-width="0.12">1</text>
<path d="M377.9,291.8 L384.7,291.8 L381.3,297.8 Z" fill="#c8001a"/>
<text x="386.1" y="297.6" font-size="8.8" text-anchor="start" fill="#333" font-weight="normal" font-style="normal"  textLength="4.45" lengthAdjust="spacingAndGlyphs" stroke="#333" stroke-width="0.12">7</text>
<path d="M419.1,263.6 L425.9,263.6 L422.5,269.6 Z" fill="#c8001a"/>
<text x="427.3" y="269.4" font-size="8.8" text-anchor="start" fill="#333" font-weight="normal" font-style="normal"  textLength="4.45" lengthAdjust="spacingAndGlyphs" stroke="#333" stroke-width="0.12">2</text>
<path d="M407.8,299.6 L414.6,299.6 L411.2,305.6 Z" fill="#c8001a"/>
<text x="416" y="305.4" font-size="8.8" text-anchor="start" fill="#333" font-weight="normal" font-style="normal"  textLength="8.9" lengthAdjust="spacingAndGlyphs" stroke="#333" stroke-width="0.12">10</text>
<path d="M377.2,313.1 L384,313.1 L380.6,319.1 Z" fill="#c8001a"/>
<text x="385.4" y="318.9" font-size="8.8" text-anchor="start" fill="#333" font-weight="normal" font-style="normal"  textLength="4.45" lengthAdjust="spacingAndGlyphs" stroke="#333" stroke-width="0.12">3</text>
<path d="M471.9,266.3 L478.7,266.3 L475.3,272.3 Z" fill="#c8001a"/>
<text x="480.1" y="272.1" font-size="8.8" text-anchor="start" fill="#333" font-weight="normal" font-style="normal"  textLength="4.45" lengthAdjust="spacingAndGlyphs" stroke="#333" stroke-width="0.12">8</text>
<path d="M497.6,258.8 L504.4,258.8 L501,264.8 Z" fill="#c8001a"/>
<text x="505.8" y="264.6" font-size="8.8" text-anchor="start" fill="#333" font-weight="normal" font-style="normal"  textLength="4.45" lengthAdjust="spacingAndGlyphs" stroke="#333" stroke-width="0.12">6</text>
<path d="M355.9,340 L362.7,340 L359.3,346 Z" fill="#c8001a"/>
<text x="364.1" y="345.8" font-size="8.8" text-anchor="start" fill="#333" font-weight="normal" font-style="normal"  textLength="4.45" lengthAdjust="spacingAndGlyphs" stroke="#333" stroke-width="0.12">4</text>
<text x="6.7" y="408.3" font-size="11" text-anchor="start" fill="#000" font-weight="bold" font-style="normal" >D</text>
<rect x="97.6" y="417.5" width="24.1" height="96.6" fill="#d8fcd2" stroke="#000" stroke-width="1.1"/>
<line x1="47.8" y1="416.6" x2="47.8" y2="469.4" stroke="#000" stroke-width="1.3" />
<line x1="47.8" y1="478.3" x2="47.8" y2="514.6" stroke="#000" stroke-width="1.3" />
<line x1="44.6" y1="417.1" x2="47.8" y2="417.1" stroke="#000" stroke-width="1.1" />
<text x="42.6" y="419.9" font-size="8.96" text-anchor="end" fill="#333" font-weight="normal" font-style="normal"  textLength="8.9" lengthAdjust="spacingAndGlyphs" stroke="#333" stroke-width="0.12">60</text>
<line x1="44.6" y1="436.3" x2="47.8" y2="436.3" stroke="#000" stroke-width="1.1" />
<text x="42.6" y="439.1" font-size="8.96" text-anchor="end" fill="#333" font-weight="normal" font-style="normal"  textLength="8.9" lengthAdjust="spacingAndGlyphs" stroke="#333" stroke-width="0.12">40</text>
<line x1="44.6" y1="455.4" x2="47.8" y2="455.4" stroke="#000" stroke-width="1.1" />
<text x="42.6" y="458.2" font-size="8.96" text-anchor="end" fill="#333" font-weight="normal" font-style="normal"  textLength="8.9" lengthAdjust="spacingAndGlyphs" stroke="#333" stroke-width="0.12">20</text>
<line x1="44.6" y1="486.1" x2="47.8" y2="486.1" stroke="#000" stroke-width="1.1" />
<text x="42.6" y="488.9" font-size="8.96" text-anchor="end" fill="#333" font-weight="normal" font-style="normal"  textLength="4.45" lengthAdjust="spacingAndGlyphs" stroke="#333" stroke-width="0.12">4</text>
<line x1="44.6" y1="500.2" x2="47.8" y2="500.2" stroke="#000" stroke-width="1.1" />
<text x="42.6" y="503" font-size="8.96" text-anchor="end" fill="#333" font-weight="normal" font-style="normal"  textLength="4.45" lengthAdjust="spacingAndGlyphs" stroke="#333" stroke-width="0.12">2</text>
<line x1="44.6" y1="514.1" x2="47.8" y2="514.1" stroke="#000" stroke-width="1.1" />
<text x="42.6" y="516.9" font-size="8.96" text-anchor="end" fill="#333" font-weight="normal" font-style="normal"  textLength="4.45" lengthAdjust="spacingAndGlyphs" stroke="#333" stroke-width="0.12">0</text>
<line x1="45" y1="469.4" x2="51.3" y2="469.4" stroke="#000" stroke-width="1.1" />
<line x1="45" y1="478.3" x2="51.3" y2="478.3" stroke="#000" stroke-width="1.1" />
<line x1="47.2" y1="514.1" x2="122" y2="514.1" stroke="#000" stroke-width="1.3" />
<line x1="60.4" y1="514.1" x2="60.4" y2="517.8" stroke="#000" stroke-width="1.1" />
<line x1="85.3" y1="514.1" x2="85.3" y2="517.8" stroke="#000" stroke-width="1.1" />
<line x1="110.1" y1="514.1" x2="110.1" y2="517.8" stroke="#000" stroke-width="1.1" />
<text x="90.55" y="412.8" font-size="7.7" text-anchor="middle" fill="#444" font-weight="normal" font-style="normal"  textLength="7.9" lengthAdjust="spacingAndGlyphs" stroke="#444" stroke-width="0.12">ns</text>
<line x1="79.5" y1="415.7" x2="101.4" y2="415.7" stroke="#444" stroke-width="1.2" />
<line x1="48.5" y1="507.2" x2="121.5" y2="507.2" stroke="#44dd22" stroke-width="1.1" stroke-dasharray="3,2"/>
<circle cx="54.5" cy="509.9" r="2.4" fill="none" stroke="#d40010" stroke-width="1.15"/>
<circle cx="57.5" cy="506.8" r="2.4" fill="none" stroke="#d40010" stroke-width="1.15"/>
<circle cx="61.4" cy="509.5" r="2.4" fill="none" stroke="#d40010" stroke-width="1.15"/>
<circle cx="64.3" cy="508.9" r="2.4" fill="none" stroke="#d40010" stroke-width="1.15"/>
<circle cx="67" cy="511.2" r="2.4" fill="none" stroke="#d40010" stroke-width="1.15"/>
<line x1="52.1" y1="509.3" x2="68.6" y2="509.3" stroke="#000" stroke-width="1.3" />
<circle cx="85.3" cy="437" r="2.4" fill="#0a2fae" stroke="none" stroke-width="0"/>
<circle cx="85.3" cy="443.4" r="2.4" fill="#0a2fae" stroke="none" stroke-width="0"/>
<circle cx="79.5" cy="459.9" r="2.4" fill="#0a2fae" stroke="none" stroke-width="0"/>
<circle cx="91.1" cy="456.6" r="2.4" fill="#0a2fae" stroke="none" stroke-width="0"/>
<circle cx="79.5" cy="467" r="2.4" fill="#0a2fae" stroke="none" stroke-width="0"/>
<circle cx="91.1" cy="467" r="2.4" fill="#0a2fae" stroke="none" stroke-width="0"/>
<circle cx="79.5" cy="496.8" r="2.4" fill="#0a2fae" stroke="none" stroke-width="0"/>
<circle cx="91.1" cy="492.8" r="2.4" fill="#0a2fae" stroke="none" stroke-width="0"/>
<circle cx="91.1" cy="503.7" r="2.4" fill="#0a2fae" stroke="none" stroke-width="0"/>
<circle cx="79.5" cy="508.1" r="2.4" fill="#0a2fae" stroke="none" stroke-width="0"/>
<line x1="79.5" y1="467" x2="91.1" y2="467" stroke="#000" stroke-width="1.3" />
<circle cx="109.7" cy="440.8" r="2.4" fill="#3cf000" stroke="none" stroke-width="0"/>
<circle cx="109.7" cy="446.2" r="2.4" fill="#3cf000" stroke="none" stroke-width="0"/>
<circle cx="104" cy="451.7" r="2.4" fill="#3cf000" stroke="none" stroke-width="0"/>
<circle cx="115.6" cy="452.6" r="2.4" fill="#3cf000" stroke="none" stroke-width="0"/>
<circle cx="104" cy="458.3" r="2.4" fill="#3cf000" stroke="none" stroke-width="0"/>
<circle cx="115.6" cy="460.4" r="2.4" fill="#3cf000" stroke="none" stroke-width="0"/>
<circle cx="109.7" cy="469.4" r="2.4" fill="#3cf000" stroke="none" stroke-width="0"/>
<circle cx="104.3" cy="505.5" r="2.4" fill="#3cf000" stroke="none" stroke-width="0"/>
<circle cx="115.6" cy="505.5" r="2.4" fill="#3cf000" stroke="none" stroke-width="0"/>
<line x1="101.4" y1="455.5" x2="118.2" y2="455.5" stroke="#000" stroke-width="1.3" />
<line x1="121.7" y1="469.3" x2="131" y2="469.3" stroke="#000" stroke-width="1.3" />
<path d="M129.5,466.9 L137,469.3 L129.5,471.7 Z" fill="#000"/>
<text x="0" y="0" font-size="8" text-anchor="end" fill="#222" font-weight="normal" font-style="normal" transform="translate(62.5,523.5) rotate(-45)" textLength="21.5" lengthAdjust="spacingAndGlyphs" stroke="#222" stroke-width="0.12">T-cells</text>
<text x="0" y="0" font-size="8" text-anchor="end" fill="#222" font-weight="normal" font-style="normal" transform="translate(87.5,523.5) rotate(-45)" textLength="38.5" lengthAdjust="spacingAndGlyphs" stroke="#222" stroke-width="0.12">B-CLL cells</text>
<text x="0" y="0" font-size="8" text-anchor="end" fill="#222" font-weight="normal" font-style="normal" transform="translate(112.5,523.5) rotate(-45)" textLength="51" lengthAdjust="spacingAndGlyphs" stroke="#222" stroke-width="0.12">Healthy B-cells</text>
<text x="0" y="0" font-size="8" text-anchor="middle" fill="#333" font-weight="normal" font-style="normal" transform="translate(27.6,461.7) rotate(-90)" textLength="81" lengthAdjust="spacingAndGlyphs" stroke="#333" stroke-width="0.12">Siglec-6 normalized MFI</text>
<line x1="153.9" y1="417.6" x2="153.9" y2="514.4" stroke="#000" stroke-width="1.3" />
<line x1="153.3" y1="513.8" x2="218.6" y2="513.8" stroke="#000" stroke-width="1.3" />
<line x1="150.6" y1="513.8" x2="153.9" y2="513.8" stroke="#000" stroke-width="1.1" />
<text x="148.6" y="516.6" font-size="8.96" text-anchor="end" fill="#333" font-weight="normal" font-style="normal"  textLength="4.45" lengthAdjust="spacingAndGlyphs" stroke="#333" stroke-width="0.12">0</text>
<line x1="150.6" y1="482.55" x2="153.9" y2="482.55" stroke="#000" stroke-width="1.1" />
<text x="148.6" y="485.35" font-size="8.96" text-anchor="end" fill="#333" font-weight="normal" font-style="normal"  textLength="8.9" lengthAdjust="spacingAndGlyphs" stroke="#333" stroke-width="0.12">20</text>
<line x1="150.6" y1="451.3" x2="153.9" y2="451.3" stroke="#000" stroke-width="1.1" />
<text x="148.6" y="454.1" font-size="8.96" text-anchor="end" fill="#333" font-weight="normal" font-style="normal"  textLength="8.9" lengthAdjust="spacingAndGlyphs" stroke="#333" stroke-width="0.12">40</text>
<line x1="150.6" y1="420.05" x2="153.9" y2="420.05" stroke="#000" stroke-width="1.1" />
<text x="148.6" y="422.85" font-size="8.96" text-anchor="end" fill="#333" font-weight="normal" font-style="normal"  textLength="8.9" lengthAdjust="spacingAndGlyphs" stroke="#333" stroke-width="0.12">60</text>
<line x1="164.5" y1="513.8" x2="164.5" y2="517.5" stroke="#000" stroke-width="1.1" />
<line x1="186.1" y1="513.8" x2="186.1" y2="517.5" stroke="#000" stroke-width="1.1" />
<line x1="206.9" y1="513.8" x2="206.9" y2="517.5" stroke="#000" stroke-width="1.1" />
<text x="178.05" y="409.8" font-size="7.7" text-anchor="middle" fill="#444" font-weight="normal" font-style="normal"  textLength="7.9" lengthAdjust="spacingAndGlyphs" stroke="#444" stroke-width="0.12">ns</text>
<line x1="166.9" y1="412.5" x2="188.8" y2="412.5" stroke="#444" stroke-width="1.2" />
<text x="202.35" y="409.8" font-size="7.7" text-anchor="middle" fill="#444" font-weight="normal" font-style="normal"  textLength="7.9" lengthAdjust="spacingAndGlyphs" stroke="#444" stroke-width="0.12">ns</text>
<line x1="191.7" y1="412.5" x2="213.6" y2="412.5" stroke="#444" stroke-width="1.2" />
<line x1="154.5" y1="512.4" x2="218" y2="512.4" stroke="#44dd22" stroke-width="1.1" stroke-dasharray="3,2"/>
<circle cx="164.9" cy="418.4" r="2.3" fill="none" stroke="#2a20a8" stroke-width="1.2"/>
<circle cx="164.9" cy="458.9" r="2.3" fill="none" stroke="#2a20a8" stroke-width="1.2"/>
<circle cx="164.9" cy="468.9" r="2.3" fill="none" stroke="#2a20a8" stroke-width="1.2"/>
<circle cx="164.9" cy="475.7" r="2.3" fill="none" stroke="#2a20a8" stroke-width="1.2"/>
<circle cx="164.9" cy="500.3" r="2.3" fill="none" stroke="#2a20a8" stroke-width="1.2"/>
<line x1="158.2" y1="469.3" x2="172" y2="469.3" stroke="#000" stroke-width="1.3" />
<circle cx="186.1" cy="424.8" r="2.3" fill="none" stroke="#ff8a1c" stroke-width="1.2"/>
<circle cx="186.1" cy="463" r="2.3" fill="none" stroke="#ff8a1c" stroke-width="1.2"/>
<circle cx="186.1" cy="494.3" r="2.3" fill="none" stroke="#ff8a1c" stroke-width="1.2"/>
<circle cx="181.5" cy="507.7" r="2.3" fill="none" stroke="#ff8a1c" stroke-width="1.2"/>
<circle cx="191" cy="503.9" r="2.3" fill="none" stroke="#ff8a1c" stroke-width="1.2"/>
<line x1="178.9" y1="493.9" x2="193.6" y2="493.9" stroke="#000" stroke-width="1.3" />
<circle cx="202.7" cy="465.7" r="2.3" fill="none" stroke="#3cf02a" stroke-width="1.2"/>
<circle cx="211.8" cy="470" r="2.3" fill="none" stroke="#3cf02a" stroke-width="1.2"/>
<circle cx="206.9" cy="503.2" r="2.3" fill="none" stroke="#3cf02a" stroke-width="1.2"/>
<circle cx="202.3" cy="511.3" r="2.3" fill="none" stroke="#3cf02a" stroke-width="1.2"/>
<circle cx="211.8" cy="509.6" r="2.3" fill="none" stroke="#3cf02a" stroke-width="1.2"/>
<line x1="200.1" y1="502.8" x2="214.8" y2="502.8" stroke="#000" stroke-width="1.3" />
<text x="0" y="0" font-size="8" text-anchor="end" fill="#222" font-weight="normal" font-style="normal" transform="translate(168,522.5) rotate(-45)" stroke="#222" stroke-width="0.12">Memory</text>
<text x="0" y="0" font-size="8" text-anchor="end" fill="#222" font-weight="normal" font-style="normal" transform="translate(189.5,522.5) rotate(-45)" stroke="#222" stroke-width="0.12">Na&#239;ve</text>
<text x="0" y="0" font-size="8" text-anchor="end" fill="#222" font-weight="normal" font-style="normal" transform="translate(210.5,522.5) rotate(-45)" stroke="#222" stroke-width="0.12">Immature</text>
<clipPath id="cP3"><rect x="244.4" y="419.5" width="80" height="93.8"/></clipPath>
<line x1="244.4" y1="513.3" x2="244.4" y2="516.9" stroke="#000" stroke-width="1.0" />
<line x1="249.22" y1="513.3" x2="249.22" y2="516.3" stroke="#000" stroke-width="1.0" />
<line x1="252.03" y1="513.3" x2="252.03" y2="516.3" stroke="#000" stroke-width="1.0" />
<line x1="254.03" y1="513.3" x2="254.03" y2="516.3" stroke="#000" stroke-width="1.0" />
<line x1="255.58" y1="513.3" x2="255.58" y2="516.3" stroke="#000" stroke-width="1.0" />
<line x1="256.85" y1="513.3" x2="256.85" y2="516.3" stroke="#000" stroke-width="1.0" />
<line x1="257.92" y1="513.3" x2="257.92" y2="516.3" stroke="#000" stroke-width="1.0" />
<line x1="258.85" y1="513.3" x2="258.85" y2="516.3" stroke="#000" stroke-width="1.0" />
<line x1="259.67" y1="513.3" x2="259.67" y2="516.3" stroke="#000" stroke-width="1.0" />
<line x1="260.4" y1="513.3" x2="260.4" y2="516.9" stroke="#000" stroke-width="1.0" />
<line x1="265.22" y1="513.3" x2="265.22" y2="516.3" stroke="#000" stroke-width="1.0" />
<line x1="268.03" y1="513.3" x2="268.03" y2="516.3" stroke="#000" stroke-width="1.0" />
<line x1="270.03" y1="513.3" x2="270.03" y2="516.3" stroke="#000" stroke-width="1.0" />
<line x1="271.58" y1="513.3" x2="271.58" y2="516.3" stroke="#000" stroke-width="1.0" />
<line x1="272.85" y1="513.3" x2="272.85" y2="516.3" stroke="#000" stroke-width="1.0" />
<line x1="273.92" y1="513.3" x2="273.92" y2="516.3" stroke="#000" stroke-width="1.0" />
<line x1="274.85" y1="513.3" x2="274.85" y2="516.3" stroke="#000" stroke-width="1.0" />
<line x1="275.67" y1="513.3" x2="275.67" y2="516.3" stroke="#000" stroke-width="1.0" />
<line x1="276.4" y1="513.3" x2="276.4" y2="516.9" stroke="#000" stroke-width="1.0" />
<line x1="281.22" y1="513.3" x2="281.22" y2="516.3" stroke="#000" stroke-width="1.0" />
<line x1="284.03" y1="513.3" x2="284.03" y2="516.3" stroke="#000" stroke-width="1.0" />
<line x1="286.03" y1="513.3" x2="286.03" y2="516.3" stroke="#000" stroke-width="1.0" />
<line x1="287.58" y1="513.3" x2="287.58" y2="516.3" stroke="#000" stroke-width="1.0" />
<line x1="288.85" y1="513.3" x2="288.85" y2="516.3" stroke="#000" stroke-width="1.0" />
<line x1="289.92" y1="513.3" x2="289.92" y2="516.3" stroke="#000" stroke-width="1.0" />
<line x1="290.85" y1="513.3" x2="290.85" y2="516.3" stroke="#000" stroke-width="1.0" />
<line x1="291.67" y1="513.3" x2="291.67" y2="516.3" stroke="#000" stroke-width="1.0" />
<line x1="292.4" y1="513.3" x2="292.4" y2="516.9" stroke="#000" stroke-width="1.0" />
<line x1="297.22" y1="513.3" x2="297.22" y2="516.3" stroke="#000" stroke-width="1.0" />
<line x1="300.03" y1="513.3" x2="300.03" y2="516.3" stroke="#000" stroke-width="1.0" />
<line x1="302.03" y1="513.3" x2="302.03" y2="516.3" stroke="#000" stroke-width="1.0" />
<line x1="303.58" y1="513.3" x2="303.58" y2="516.3" stroke="#000" stroke-width="1.0" />
<line x1="304.85" y1="513.3" x2="304.85" y2="516.3" stroke="#000" stroke-width="1.0" />
<line x1="305.92" y1="513.3" x2="305.92" y2="516.3" stroke="#000" stroke-width="1.0" />
<line x1="306.85" y1="513.3" x2="306.85" y2="516.3" stroke="#000" stroke-width="1.0" />
<line x1="307.67" y1="513.3" x2="307.67" y2="516.3" stroke="#000" stroke-width="1.0" />
<line x1="308.4" y1="513.3" x2="308.4" y2="516.9" stroke="#000" stroke-width="1.0" />
<line x1="313.22" y1="513.3" x2="313.22" y2="516.3" stroke="#000" stroke-width="1.0" />
<line x1="316.03" y1="513.3" x2="316.03" y2="516.3" stroke="#000" stroke-width="1.0" />
<line x1="318.03" y1="513.3" x2="318.03" y2="516.3" stroke="#000" stroke-width="1.0" />
<line x1="319.58" y1="513.3" x2="319.58" y2="516.3" stroke="#000" stroke-width="1.0" />
<line x1="320.85" y1="513.3" x2="320.85" y2="516.3" stroke="#000" stroke-width="1.0" />
<line x1="321.92" y1="513.3" x2="321.92" y2="516.3" stroke="#000" stroke-width="1.0" />
<line x1="322.85" y1="513.3" x2="322.85" y2="516.3" stroke="#000" stroke-width="1.0" />
<line x1="323.67" y1="513.3" x2="323.67" y2="516.3" stroke="#000" stroke-width="1.0" />
<line x1="324.4" y1="513.3" x2="324.4" y2="516.1" stroke="#000" stroke-width="0.8" />
<rect x="244.4" y="419.5" width="80" height="93.8" fill="none" stroke="#000" stroke-width="1.3"/>
<line x1="245" y1="453" x2="245" y2="482.6" stroke="#ff7f1a" stroke-width="1.1" />
<line x1="245" y1="483" x2="245" y2="498.5" stroke="#3ee617" stroke-width="1.1" />
<line x1="245" y1="498.5" x2="245" y2="513" stroke="#c8001e" stroke-width="1.1" />
<path d="M244.8,452.2 L253.2,451.5 L259.4,449.5 L264,446.5 L267.8,441.8 L270.9,435.7 L274,428 L276.3,424.2 L279.1,422.6 L280.9,423.8 L283.2,426.5 L286.3,428.5 L289.4,431.1 L291.7,435.7 L294,442.6 L296.3,448.8 L298.6,451.1 L302.5,452.2 L324,452.2" fill="none" stroke="#1737b8" stroke-width="1.6" stroke-linejoin="round" stroke-linecap="round" clip-path="url(#cP3)"/>
<path d="M244.8,467.5 L254.8,467.5 L260.9,466.9 L267.1,464.9 L272.5,461.8 L276.3,458.3 L278.6,454.9 L280.6,451.1 L282.5,452.6 L284.3,450.3 L286.3,450.6 L287.8,451.5 L289.4,448.8 L291.7,450.3 L294,449.5 L296.3,447.2 L298.6,443.8 L300.6,447.2 L302.2,453.4 L304,459.5 L306.3,464.2 L309.4,467.2 L311.7,467.5 L324,467.5" fill="none" stroke="#2b139e" stroke-width="1.6" stroke-linejoin="round" stroke-linecap="round" clip-path="url(#cP3)"/>
<path d="M244.8,482.6 L251.7,482.3 L257.8,480.8 L263.2,477.7 L267.1,473.1 L270.2,467.7 L272.5,462.3 L274.8,457.7 L276.6,456.5 L278.2,459.2 L279.7,464.6 L281.7,469.2 L283.7,473.8 L286.3,476.5 L289.4,476.9 L292.5,474.3 L295.5,473.8 L298.6,474.6 L301.7,477.7 L305.5,481.5 L310.2,482.8 L324,482.8" fill="none" stroke="#ff7f1a" stroke-width="1.6" stroke-linejoin="round" stroke-linecap="round" clip-path="url(#cP3)"/>
<path d="M244.8,498.5 L253.2,497.7 L259.4,495.4 L264,491.5 L267.8,486.9 L270.9,482.3 L273.2,477.7 L275.2,474.9 L277.1,477.4 L279.4,478.9 L280.9,483.1 L282.8,487.7 L285.2,489.2 L287.1,492.3 L290.2,495.4 L296.3,495.8 L300.9,496.9 L305.5,498.5 L324,498.5" fill="none" stroke="#3ee617" stroke-width="1.6" stroke-linejoin="round" stroke-linecap="round" clip-path="url(#cP3)"/>
<path d="M247.1,513.1 L254.8,510.8 L260.9,507.7 L266.3,502.3 L270.2,496.2 L273.2,490.3 L275.5,487.2 L276.8,486.9 L278.2,489.2 L279.7,496.2 L281.2,503.8 L282.8,510 L284.3,513.1" fill="none" stroke="#c8001e" stroke-width="1.6" stroke-linejoin="round" stroke-linecap="round" clip-path="url(#cP3)"/>
<line x1="282.5" y1="420" x2="282.5" y2="513" stroke="#000" stroke-width="1.0" stroke-dasharray="1,1"/>
<text x="284.6" y="413.4" font-size="8" text-anchor="middle" fill="#111" font-weight="bold" font-style="normal" stroke="#111" stroke-width="0.35">Patient-3</text>
<line x1="248.1" y1="522.8" x2="271" y2="522.8" stroke="#000" stroke-width="1.4" />
<path d="M270.5,520.8 L276,522.8 L270.5,524.8 Z" fill="#000"/>
<text x="277.3" y="525.6" font-size="8" text-anchor="start" fill="#333" font-weight="normal" font-style="normal"  stroke="#333" stroke-width="0.12">Siglec-6</text>
<text x="328.1" y="448.3" font-size="8" text-anchor="start" fill="#3a60cc" font-weight="normal" font-style="normal"  textLength="31" lengthAdjust="spacingAndGlyphs" stroke="#3a60cc" stroke-width="0.12">CLL cells</text>
<text x="328.1" y="465.2" font-size="8" text-anchor="start" fill="#3322a6" font-weight="normal" font-style="normal"  textLength="55" lengthAdjust="spacingAndGlyphs" stroke="#3322a6" stroke-width="0.12">Memory B-cells</text>
<text x="328.1" y="479.6" font-size="8" text-anchor="start" fill="#ff8a38" font-weight="normal" font-style="normal"  textLength="45.4" lengthAdjust="spacingAndGlyphs" stroke="#ff8a38" stroke-width="0.12">Naive B-cells</text>
<text x="328.1" y="494.4" font-size="8" text-anchor="start" fill="#48ec3a" font-weight="normal" font-style="normal"  textLength="58.8" lengthAdjust="spacingAndGlyphs" stroke="#48ec3a" stroke-width="0.12">Immature B-cells</text>
<text x="328.1" y="509.8" font-size="8" text-anchor="start" fill="#d02040" font-weight="normal" font-style="normal"  textLength="53.7" lengthAdjust="spacingAndGlyphs" stroke="#d02040" stroke-width="0.12">Isotype control</text>
<text x="404.8" y="408.2" font-size="11" text-anchor="start" fill="#000" font-weight="bold" font-style="normal" >E</text>
<line x1="441.1" y1="411.9" x2="441.1" y2="506" stroke="#000" stroke-width="1.3" />
<line x1="440.5" y1="505.4" x2="505.3" y2="505.4" stroke="#000" stroke-width="1.3" />
<line x1="438" y1="505.4" x2="441.1" y2="505.4" stroke="#000" stroke-width="1.1" />
<text x="435.2" y="508.2" font-size="8.96" text-anchor="end" fill="#333" font-weight="normal" font-style="normal"  textLength="4.45" lengthAdjust="spacingAndGlyphs" stroke="#333" stroke-width="0.12">0</text>
<line x1="438" y1="475.4" x2="441.1" y2="475.4" stroke="#000" stroke-width="1.1" />
<text x="435.2" y="478.2" font-size="8.96" text-anchor="end" fill="#333" font-weight="normal" font-style="normal"  textLength="8.9" lengthAdjust="spacingAndGlyphs" stroke="#333" stroke-width="0.12">20</text>
<line x1="438" y1="445.4" x2="441.1" y2="445.4" stroke="#000" stroke-width="1.1" />
<text x="435.2" y="448.2" font-size="8.96" text-anchor="end" fill="#333" font-weight="normal" font-style="normal"  textLength="8.9" lengthAdjust="spacingAndGlyphs" stroke="#333" stroke-width="0.12">40</text>
<line x1="438" y1="415.4" x2="441.1" y2="415.4" stroke="#000" stroke-width="1.1" />
<text x="435.2" y="418.2" font-size="8.96" text-anchor="end" fill="#333" font-weight="normal" font-style="normal"  textLength="8.9" lengthAdjust="spacingAndGlyphs" stroke="#333" stroke-width="0.12">60</text>
<line x1="457.2" y1="505.4" x2="457.2" y2="508.6" stroke="#000" stroke-width="1.1" />
<line x1="489.2" y1="505.4" x2="489.2" y2="508.6" stroke="#000" stroke-width="1.1" />
<line x1="458" y1="412" x2="487.3" y2="412" stroke="#333" stroke-width="1.4" />
<circle cx="472.2" cy="408.3" r="0.95" fill="#111" stroke="none" stroke-width="0"/>
<line x1="441.8" y1="504" x2="505" y2="504" stroke="#3a5fd0" stroke-width="1.3" stroke-dasharray="3,2"/>
<circle cx="457.2" cy="419.7" r="2.5" fill="#c8001a" stroke="none" stroke-width="0"/>
<circle cx="457.2" cy="452.2" r="2.5" fill="#c8001a" stroke="none" stroke-width="0"/>
<circle cx="457.2" cy="461.1" r="2.5" fill="#c8001a" stroke="none" stroke-width="0"/>
<circle cx="452.3" cy="469.6" r="2.5" fill="#c8001a" stroke="none" stroke-width="0"/>
<circle cx="461.8" cy="472.1" r="2.5" fill="#c8001a" stroke="none" stroke-width="0"/>
<circle cx="452.3" cy="480.2" r="2.5" fill="#c8001a" stroke="none" stroke-width="0"/>
<circle cx="461.8" cy="483.8" r="2.5" fill="#c8001a" stroke="none" stroke-width="0"/>
<circle cx="457.2" cy="497.6" r="2.5" fill="#c8001a" stroke="none" stroke-width="0"/>
<circle cx="452.3" cy="503.5" r="2.5" fill="#c8001a" stroke="none" stroke-width="0"/>
<circle cx="461.8" cy="503.5" r="2.5" fill="#c8001a" stroke="none" stroke-width="0"/>
<line x1="446.5" y1="476" x2="467.8" y2="476" stroke="#000" stroke-width="1.5" />
<circle cx="486.2" cy="474.9" r="2.5" fill="#0a30b0" stroke="none" stroke-width="0"/>
<circle cx="489.1" cy="491" r="2.5" fill="#0a30b0" stroke="none" stroke-width="0"/>
<circle cx="480.6" cy="501.6" r="2.5" fill="#0a30b0" stroke="none" stroke-width="0"/>
<circle cx="484.4" cy="498.8" r="2.5" fill="#0a30b0" stroke="none" stroke-width="0"/>
<circle cx="489.1" cy="496.3" r="2.5" fill="#0a30b0" stroke="none" stroke-width="0"/>
<circle cx="493.1" cy="498.8" r="2.5" fill="#0a30b0" stroke="none" stroke-width="0"/>
<circle cx="496.9" cy="502" r="2.5" fill="#0a30b0" stroke="none" stroke-width="0"/>
<circle cx="489.1" cy="502" r="2.5" fill="#0a30b0" stroke="none" stroke-width="0"/>
<line x1="478.1" y1="500.3" x2="499.4" y2="500.3" stroke="#000" stroke-width="1.8" />
<text x="457.05" y="518.4" font-size="8" text-anchor="middle" fill="#333" font-weight="normal" font-style="normal"  textLength="13.9" lengthAdjust="spacingAndGlyphs" stroke="#333" stroke-width="0.12">CLL</text>
<text x="457.1" y="527.5" font-size="8" text-anchor="middle" fill="#333" font-weight="normal" font-style="normal"  textLength="28.8" lengthAdjust="spacingAndGlyphs" stroke="#333" stroke-width="0.12">patients</text>
<text x="489.1" y="518.4" font-size="8" text-anchor="middle" fill="#333" font-weight="normal" font-style="normal"  textLength="27" lengthAdjust="spacingAndGlyphs" stroke="#333" stroke-width="0.12">Healthy</text>
<text x="488.85" y="527.5" font-size="8" text-anchor="middle" fill="#333" font-weight="normal" font-style="normal"  textLength="24.9" lengthAdjust="spacingAndGlyphs" stroke="#333" stroke-width="0.12">donors</text>
<text x="0" y="0" font-size="8" text-anchor="middle" fill="#333" font-weight="normal" font-style="normal" transform="translate(419.5,459.5) rotate(-90)" textLength="80.1" lengthAdjust="spacingAndGlyphs" stroke="#333" stroke-width="0.12">Siglec-6 normalized MFI</text>
<rect x="0" y="0" width="520" height="566" fill="none" stroke="#000" stroke-width="2.8"/>
</svg></body></html>
